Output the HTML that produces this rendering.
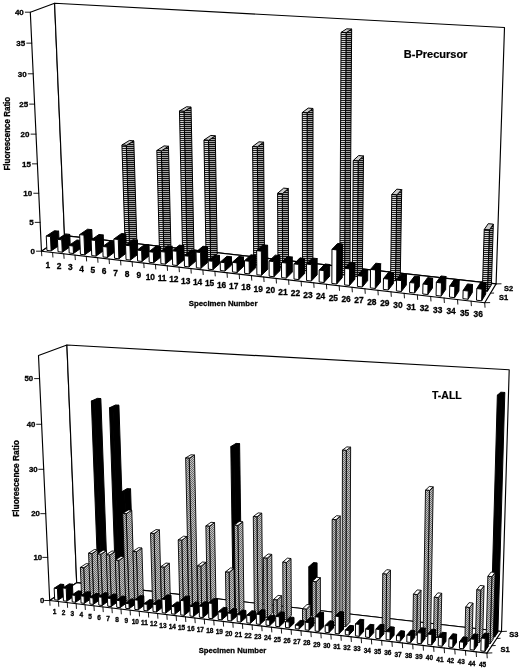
<!DOCTYPE html>
<html><head><meta charset="utf-8"><title>Fluorescence Ratio</title>
<style>html,body{margin:0;padding:0;background:#fff}svg{display:block}
text{font-family:"Liberation Sans",Arial,sans-serif;fill:#000}</style></head>
<body><svg width="520" height="668" viewBox="0 0 520 668">
<rect width="520" height="668" fill="#fff"/>
<defs>
<pattern id="hl" width="2" height="2" patternUnits="userSpaceOnUse"><rect width="2" height="2" fill="#d8d8d8"/><rect width="2" height="1" fill="#222"/></pattern>
<pattern id="hd" width="2" height="2" patternUnits="userSpaceOnUse"><rect width="2" height="2" fill="#b4b4b4"/><rect width="2" height="1.1" fill="#111"/></pattern>
<pattern id="dt" width="2" height="2" patternUnits="userSpaceOnUse"><rect width="2" height="2" fill="#c4c4c4"/><rect width="1" height="1" fill="#6a6a6a"/><rect x="1" y="1" width="1" height="1" fill="#6a6a6a"/></pattern>
</defs>
<polygon points="41.48,251.20 64.51,235.69 54.60,3.22 30.31,12.19" fill="#fff" stroke="#000" stroke-width="1.15" stroke-linejoin="round" />
<polygon points="64.51,235.69 496.09,283.90 504.50,27.49 54.60,3.22" fill="#fff" stroke="#000" stroke-width="1.15" stroke-linejoin="round" />
<polygon points="41.48,251.20 484.72,302.71 496.09,283.90 64.51,235.69" fill="#fff" stroke="#000" stroke-width="1.15" stroke-linejoin="round" />
<polygon points="129.61,250.66 136.93,245.13 133.80,140.85 126.31,145.38" fill="url(#hd)" stroke="#000" stroke-width="1.0" stroke-linejoin="round" />
<polygon points="121.93,145.00 126.31,145.38 133.80,140.85 129.45,140.48" fill="#ccc" stroke="#000" stroke-width="1.0" stroke-linejoin="round" />
<polygon points="125.31,250.17 129.61,250.66 126.31,145.38 121.93,145.00" fill="url(#hl)" stroke="#000" stroke-width="1.0" stroke-linejoin="round" />
<polygon points="163.93,254.56 170.96,248.94 168.48,146.27 161.30,150.89" fill="url(#hd)" stroke="#000" stroke-width="1.0" stroke-linejoin="round" />
<polygon points="156.84,150.50 161.30,150.89 168.48,146.27 164.06,145.88" fill="#ccc" stroke="#000" stroke-width="1.0" stroke-linejoin="round" />
<polygon points="159.55,254.06 163.93,254.56 161.30,150.89 156.84,150.50" fill="url(#hl)" stroke="#000" stroke-width="1.0" stroke-linejoin="round" />
<polygon points="187.14,257.19 193.96,251.51 191.05,107.09 184.02,111.36" fill="url(#hd)" stroke="#000" stroke-width="1.0" stroke-linejoin="round" />
<polygon points="179.48,111.00 184.02,111.36 191.05,107.09 186.55,106.75" fill="#ccc" stroke="#000" stroke-width="1.0" stroke-linejoin="round" />
<polygon points="182.71,256.69 187.14,257.19 184.02,111.36 179.48,111.00" fill="url(#hl)" stroke="#000" stroke-width="1.0" stroke-linejoin="round" />
<polygon points="210.60,259.86 217.21,254.12 215.31,135.81 208.54,140.39" fill="url(#hd)" stroke="#000" stroke-width="1.0" stroke-linejoin="round" />
<polygon points="203.97,140.00 208.54,140.39 215.31,135.81 210.78,135.43" fill="#ccc" stroke="#000" stroke-width="1.0" stroke-linejoin="round" />
<polygon points="206.12,259.35 210.60,259.86 208.54,140.39 203.97,140.00" fill="url(#hl)" stroke="#000" stroke-width="1.0" stroke-linejoin="round" />
<polygon points="258.34,265.28 264.52,259.42 263.60,142.20 257.28,146.90" fill="url(#hd)" stroke="#000" stroke-width="1.0" stroke-linejoin="round" />
<polygon points="252.61,146.50 257.28,146.90 263.60,142.20 258.97,141.81" fill="#ccc" stroke="#000" stroke-width="1.0" stroke-linejoin="round" />
<polygon points="253.76,264.76 258.34,265.28 257.28,146.90 252.61,146.50" fill="url(#hl)" stroke="#000" stroke-width="1.0" stroke-linejoin="round" />
<polygon points="282.62,268.04 288.58,262.11 288.31,188.55 282.27,193.75" fill="url(#hd)" stroke="#000" stroke-width="1.0" stroke-linejoin="round" />
<polygon points="277.58,193.30 282.27,193.75 288.31,188.55 283.66,188.11" fill="#ccc" stroke="#000" stroke-width="1.0" stroke-linejoin="round" />
<polygon points="277.98,267.51 282.62,268.04 282.27,193.75 277.58,193.30" fill="url(#hl)" stroke="#000" stroke-width="1.0" stroke-linejoin="round" />
<polygon points="307.18,270.83 312.91,264.84 313.01,108.46 307.12,112.87" fill="url(#hd)" stroke="#000" stroke-width="1.0" stroke-linejoin="round" />
<polygon points="302.31,112.50 307.12,112.87 313.01,108.46 308.24,108.10" fill="#ccc" stroke="#000" stroke-width="1.0" stroke-linejoin="round" />
<polygon points="302.49,270.29 307.18,270.83 307.12,112.87 302.31,112.50" fill="url(#hl)" stroke="#000" stroke-width="1.0" stroke-linejoin="round" />
<polygon points="344.57,275.07 349.94,268.99 351.65,29.08 346.07,32.68" fill="url(#hd)" stroke="#000" stroke-width="1.0" stroke-linejoin="round" />
<polygon points="341.09,32.40 346.07,32.68 351.65,29.08 346.72,28.80" fill="#ccc" stroke="#000" stroke-width="1.0" stroke-linejoin="round" />
<polygon points="339.80,274.53 344.57,275.07 346.07,32.68 341.09,32.40" fill="url(#hl)" stroke="#000" stroke-width="1.0" stroke-linejoin="round" />
<polygon points="357.18,276.51 362.43,270.39 363.49,155.96 358.15,160.92" fill="url(#hd)" stroke="#000" stroke-width="1.0" stroke-linejoin="round" />
<polygon points="353.25,160.50 358.15,160.92 363.49,155.96 358.64,155.55" fill="#ccc" stroke="#000" stroke-width="1.0" stroke-linejoin="round" />
<polygon points="352.38,275.96 357.18,276.51 358.15,160.92 353.25,160.50" fill="url(#hl)" stroke="#000" stroke-width="1.0" stroke-linejoin="round" />
<polygon points="395.45,280.85 400.33,274.63 401.68,189.61 396.75,194.97" fill="url(#hd)" stroke="#000" stroke-width="1.0" stroke-linejoin="round" />
<polygon points="391.79,194.50 396.75,194.97 401.68,189.61 396.77,189.15" fill="#ccc" stroke="#000" stroke-width="1.0" stroke-linejoin="round" />
<polygon points="390.56,280.30 395.45,280.85 396.75,194.97 391.79,194.50" fill="url(#hl)" stroke="#000" stroke-width="1.0" stroke-linejoin="round" />
<polygon points="487.45,291.30 491.40,284.84 493.34,224.17 489.37,230.01" fill="url(#hd)" stroke="#000" stroke-width="1.0" stroke-linejoin="round" />
<polygon points="484.22,229.50 489.37,230.01 493.34,224.17 488.25,223.67" fill="#ccc" stroke="#000" stroke-width="1.0" stroke-linejoin="round" />
<polygon points="482.36,290.72 487.45,291.30 489.37,230.01 484.22,229.50" fill="url(#hl)" stroke="#000" stroke-width="1.0" stroke-linejoin="round" />
<polygon points="51.13,250.91 59.24,245.39 58.62,231.15 50.48,236.54" fill="#000" stroke="#000" stroke-width="1" stroke-linejoin="round" />
<polygon points="46.25,236.07 50.48,236.54 58.62,231.15 54.43,230.69" fill="#000" stroke="#000" stroke-width="1" stroke-linejoin="round" />
<polygon points="46.91,250.42 51.13,250.91 50.48,236.54 46.25,236.07" fill="#fff" stroke="#000" stroke-width="1" stroke-linejoin="round" />
<polygon points="62.27,252.20 70.28,246.65 69.77,234.38 61.73,239.82" fill="#000" stroke="#000" stroke-width="1" stroke-linejoin="round" />
<polygon points="57.48,239.34 61.73,239.82 69.77,234.38 65.56,233.91" fill="#000" stroke="#000" stroke-width="1" stroke-linejoin="round" />
<polygon points="58.03,251.71 62.27,252.20 61.73,239.82 57.48,239.34" fill="#fff" stroke="#000" stroke-width="1" stroke-linejoin="round" />
<polygon points="73.46,253.50 81.39,247.92 81.09,240.49 73.15,246.00" fill="#000" stroke="#000" stroke-width="1" stroke-linejoin="round" />
<polygon points="68.89,245.51 73.15,246.00 81.09,240.49 76.86,240.01" fill="#000" stroke="#000" stroke-width="1" stroke-linejoin="round" />
<polygon points="69.20,253.01 73.46,253.50 73.15,246.00 68.89,245.51" fill="#fff" stroke="#000" stroke-width="1" stroke-linejoin="round" />
<polygon points="84.73,254.81 92.56,249.19 91.82,229.66 83.95,235.09" fill="#000" stroke="#000" stroke-width="1" stroke-linejoin="round" />
<polygon points="79.65,234.61 83.95,235.09 91.82,229.66 87.55,229.20" fill="#000" stroke="#000" stroke-width="1" stroke-linejoin="round" />
<polygon points="80.44,254.31 84.73,254.81 83.95,235.09 79.65,234.61" fill="#fff" stroke="#000" stroke-width="1" stroke-linejoin="round" />
<polygon points="96.05,256.12 103.78,250.48 103.23,234.94 95.47,240.43" fill="#000" stroke="#000" stroke-width="1" stroke-linejoin="round" />
<polygon points="91.14,239.95 95.47,240.43 103.23,234.94 98.94,234.47" fill="#000" stroke="#000" stroke-width="1" stroke-linejoin="round" />
<polygon points="91.74,255.62 96.05,256.12 95.47,240.43 91.14,239.95" fill="#fff" stroke="#000" stroke-width="1" stroke-linejoin="round" />
<polygon points="107.44,257.44 115.08,251.77 114.72,241.39 107.07,246.96" fill="#000" stroke="#000" stroke-width="1" stroke-linejoin="round" />
<polygon points="102.73,246.47 107.07,246.96 114.72,241.39 110.42,240.91" fill="#000" stroke="#000" stroke-width="1" stroke-linejoin="round" />
<polygon points="103.10,256.94 107.44,257.44 107.07,246.96 102.73,246.47" fill="#fff" stroke="#000" stroke-width="1" stroke-linejoin="round" />
<polygon points="118.89,258.76 126.43,253.06 125.82,233.96 118.25,239.48" fill="#000" stroke="#000" stroke-width="1" stroke-linejoin="round" />
<polygon points="113.88,239.00 118.25,239.48 125.82,233.96 121.48,233.49" fill="#000" stroke="#000" stroke-width="1" stroke-linejoin="round" />
<polygon points="114.53,258.26 118.89,258.76 118.25,239.48 113.88,239.00" fill="#fff" stroke="#000" stroke-width="1" stroke-linejoin="round" />
<polygon points="130.41,260.10 137.85,254.37 137.42,240.16 129.96,245.76" fill="#000" stroke="#000" stroke-width="1" stroke-linejoin="round" />
<polygon points="125.57,245.26 129.96,245.76 137.42,240.16 133.07,239.68" fill="#000" stroke="#000" stroke-width="1" stroke-linejoin="round" />
<polygon points="126.02,259.59 130.41,260.10 129.96,245.76 125.57,245.26" fill="#fff" stroke="#000" stroke-width="1" stroke-linejoin="round" />
<polygon points="141.99,261.44 149.33,255.68 149.03,244.93 141.67,250.59" fill="#000" stroke="#000" stroke-width="1" stroke-linejoin="round" />
<polygon points="137.26,250.09 141.67,250.59 149.03,244.93 144.65,244.45" fill="#000" stroke="#000" stroke-width="1" stroke-linejoin="round" />
<polygon points="137.58,260.93 141.99,261.44 141.67,250.59 137.26,250.09" fill="#fff" stroke="#000" stroke-width="1" stroke-linejoin="round" />
<polygon points="153.64,262.79 160.88,257.00 160.61,246.52 153.35,252.21" fill="#000" stroke="#000" stroke-width="1" stroke-linejoin="round" />
<polygon points="148.91,251.70 153.35,252.21 160.61,246.52 156.20,246.03" fill="#000" stroke="#000" stroke-width="1" stroke-linejoin="round" />
<polygon points="149.21,262.28 153.64,262.79 153.35,252.21 148.91,251.70" fill="#fff" stroke="#000" stroke-width="1" stroke-linejoin="round" />
<polygon points="165.36,264.15 172.49,258.33 172.20,246.35 165.05,252.06" fill="#000" stroke="#000" stroke-width="1" stroke-linejoin="round" />
<polygon points="160.58,251.55 165.05,252.06 172.20,246.35 167.77,245.86" fill="#000" stroke="#000" stroke-width="1" stroke-linejoin="round" />
<polygon points="160.90,263.63 165.36,264.15 165.05,252.06 160.58,251.55" fill="#fff" stroke="#000" stroke-width="1" stroke-linejoin="round" />
<polygon points="177.14,265.51 184.17,259.66 183.86,245.60 176.81,251.32" fill="#000" stroke="#000" stroke-width="1" stroke-linejoin="round" />
<polygon points="172.31,250.81 176.81,251.32 183.86,245.60 179.40,245.11" fill="#000" stroke="#000" stroke-width="1" stroke-linejoin="round" />
<polygon points="172.65,264.99 177.14,265.51 176.81,251.32 172.31,250.81" fill="#fff" stroke="#000" stroke-width="1" stroke-linejoin="round" />
<polygon points="188.99,266.89 195.91,261.00 195.70,250.44 188.76,256.22" fill="#000" stroke="#000" stroke-width="1" stroke-linejoin="round" />
<polygon points="184.24,255.71 188.76,256.22 195.70,250.44 191.22,249.94" fill="#000" stroke="#000" stroke-width="1" stroke-linejoin="round" />
<polygon points="184.48,266.36 188.99,266.89 188.76,256.22 184.24,255.71" fill="#fff" stroke="#000" stroke-width="1" stroke-linejoin="round" />
<polygon points="200.91,268.27 207.72,262.35 207.45,246.74 200.61,252.51" fill="#000" stroke="#000" stroke-width="1" stroke-linejoin="round" />
<polygon points="196.06,252.00 200.61,252.51 207.45,246.74 202.94,246.25" fill="#000" stroke="#000" stroke-width="1" stroke-linejoin="round" />
<polygon points="196.37,267.74 200.91,268.27 200.61,252.51 196.06,252.00" fill="#fff" stroke="#000" stroke-width="1" stroke-linejoin="round" />
<polygon points="212.89,269.66 219.60,263.71 219.47,255.45 212.75,261.32" fill="#000" stroke="#000" stroke-width="1" stroke-linejoin="round" />
<polygon points="208.18,260.80 212.75,261.32 219.47,255.45 214.94,254.94" fill="#000" stroke="#000" stroke-width="1" stroke-linejoin="round" />
<polygon points="208.33,269.13 212.89,269.66 212.75,261.32 208.18,260.80" fill="#fff" stroke="#000" stroke-width="1" stroke-linejoin="round" />
<polygon points="224.95,271.05 231.55,265.08 231.44,256.80 224.83,262.69" fill="#000" stroke="#000" stroke-width="1" stroke-linejoin="round" />
<polygon points="220.23,262.17 224.83,262.69 231.44,256.80 226.88,256.29" fill="#000" stroke="#000" stroke-width="1" stroke-linejoin="round" />
<polygon points="220.36,270.52 224.95,271.05 224.83,262.69 220.23,262.17" fill="#fff" stroke="#000" stroke-width="1" stroke-linejoin="round" />
<polygon points="237.08,272.46 243.56,266.45 243.45,256.96 236.96,262.88" fill="#000" stroke="#000" stroke-width="1" stroke-linejoin="round" />
<polygon points="232.33,262.35 236.96,262.88 243.45,256.96 238.87,256.45" fill="#000" stroke="#000" stroke-width="1" stroke-linejoin="round" />
<polygon points="232.46,271.92 237.08,272.46 236.96,262.88 232.33,262.35" fill="#fff" stroke="#000" stroke-width="1" stroke-linejoin="round" />
<polygon points="249.27,273.87 255.65,267.83 255.53,255.34 249.14,261.26" fill="#000" stroke="#000" stroke-width="1" stroke-linejoin="round" />
<polygon points="244.49,260.73 249.14,261.26 255.53,255.34 250.92,254.82" fill="#000" stroke="#000" stroke-width="1" stroke-linejoin="round" />
<polygon points="244.63,273.33 249.27,273.87 249.14,261.26 244.49,260.73" fill="#fff" stroke="#000" stroke-width="1" stroke-linejoin="round" />
<polygon points="261.54,275.29 267.80,269.22 267.63,245.31 261.34,251.15" fill="#000" stroke="#000" stroke-width="1" stroke-linejoin="round" />
<polygon points="256.65,250.63 261.34,251.15 267.63,245.31 262.98,244.81" fill="#000" stroke="#000" stroke-width="1" stroke-linejoin="round" />
<polygon points="256.87,274.75 261.54,275.29 261.34,251.15 256.65,250.63" fill="#fff" stroke="#000" stroke-width="1" stroke-linejoin="round" />
<polygon points="273.88,276.72 280.03,270.61 279.95,255.66 273.79,261.62" fill="#000" stroke="#000" stroke-width="1" stroke-linejoin="round" />
<polygon points="269.08,261.09 273.79,261.62 279.95,255.66 275.28,255.14" fill="#000" stroke="#000" stroke-width="1" stroke-linejoin="round" />
<polygon points="269.18,276.18 273.88,276.72 273.79,261.62 269.08,261.09" fill="#fff" stroke="#000" stroke-width="1" stroke-linejoin="round" />
<polygon points="286.30,278.16 292.32,272.02 292.28,257.02 286.23,263.02" fill="#000" stroke="#000" stroke-width="1" stroke-linejoin="round" />
<polygon points="281.50,262.48 286.23,263.02 292.28,257.02 287.59,256.50" fill="#000" stroke="#000" stroke-width="1" stroke-linejoin="round" />
<polygon points="281.57,277.61 286.30,278.16 286.23,263.02 281.50,262.48" fill="#fff" stroke="#000" stroke-width="1" stroke-linejoin="round" />
<polygon points="298.78,279.61 304.69,273.43 304.68,258.40 298.75,264.42" fill="#000" stroke="#000" stroke-width="1" stroke-linejoin="round" />
<polygon points="293.99,263.89 298.75,264.42 304.68,258.40 299.96,257.87" fill="#000" stroke="#000" stroke-width="1" stroke-linejoin="round" />
<polygon points="294.03,279.06 298.78,279.61 298.75,264.42 293.99,263.89" fill="#fff" stroke="#000" stroke-width="1" stroke-linejoin="round" />
<polygon points="311.34,281.06 317.13,274.85 317.15,258.57 311.35,264.61" fill="#000" stroke="#000" stroke-width="1" stroke-linejoin="round" />
<polygon points="306.55,264.08 311.35,264.61 317.15,258.57 312.40,258.04" fill="#000" stroke="#000" stroke-width="1" stroke-linejoin="round" />
<polygon points="306.56,280.51 311.34,281.06 311.35,264.61 306.55,264.08" fill="#fff" stroke="#000" stroke-width="1" stroke-linejoin="round" />
<polygon points="323.98,282.53 329.64,276.28 329.69,264.50 324.01,270.63" fill="#000" stroke="#000" stroke-width="1" stroke-linejoin="round" />
<polygon points="319.19,270.08 324.01,270.63 329.69,264.50 324.91,263.97" fill="#000" stroke="#000" stroke-width="1" stroke-linejoin="round" />
<polygon points="319.17,281.97 323.98,282.53 324.01,270.63 319.19,270.08" fill="#fff" stroke="#000" stroke-width="1" stroke-linejoin="round" />
<polygon points="336.69,284.00 342.23,277.72 342.42,243.96 336.85,249.90" fill="#000" stroke="#000" stroke-width="1" stroke-linejoin="round" />
<polygon points="331.98,249.37 336.85,249.90 342.42,243.96 337.60,243.45" fill="#000" stroke="#000" stroke-width="1" stroke-linejoin="round" />
<polygon points="331.85,283.44 336.69,284.00 336.85,249.90 331.98,249.37" fill="#fff" stroke="#000" stroke-width="1" stroke-linejoin="round" />
<polygon points="349.47,285.48 354.89,279.17 355.02,262.75 349.59,268.90" fill="#000" stroke="#000" stroke-width="1" stroke-linejoin="round" />
<polygon points="344.71,268.35 349.59,268.90 355.02,262.75 350.19,262.22" fill="#000" stroke="#000" stroke-width="1" stroke-linejoin="round" />
<polygon points="344.60,284.92 349.47,285.48 349.59,268.90 344.71,268.35" fill="#fff" stroke="#000" stroke-width="1" stroke-linejoin="round" />
<polygon points="362.33,286.97 367.63,280.62 367.73,269.96 362.43,276.21" fill="#000" stroke="#000" stroke-width="1" stroke-linejoin="round" />
<polygon points="357.53,275.65 362.43,276.21 367.73,269.96 362.88,269.42" fill="#000" stroke="#000" stroke-width="1" stroke-linejoin="round" />
<polygon points="357.44,286.41 362.33,286.97 362.43,276.21 357.53,275.65" fill="#fff" stroke="#000" stroke-width="1" stroke-linejoin="round" />
<polygon points="375.27,288.47 380.44,282.09 380.67,263.74 375.49,269.94" fill="#000" stroke="#000" stroke-width="1" stroke-linejoin="round" />
<polygon points="370.54,269.39 375.49,269.94 380.67,263.74 375.77,263.20" fill="#000" stroke="#000" stroke-width="1" stroke-linejoin="round" />
<polygon points="370.35,287.90 375.27,288.47 375.49,269.94 370.54,269.39" fill="#fff" stroke="#000" stroke-width="1" stroke-linejoin="round" />
<polygon points="388.29,289.98 393.32,283.56 393.48,272.84 388.44,279.15" fill="#000" stroke="#000" stroke-width="1" stroke-linejoin="round" />
<polygon points="383.47,278.59 388.44,279.15 393.48,272.84 388.57,272.29" fill="#000" stroke="#000" stroke-width="1" stroke-linejoin="round" />
<polygon points="383.33,289.41 388.29,289.98 388.44,279.15 383.47,278.59" fill="#fff" stroke="#000" stroke-width="1" stroke-linejoin="round" />
<polygon points="401.38,291.50 406.29,285.04 406.47,274.29 401.56,280.64" fill="#000" stroke="#000" stroke-width="1" stroke-linejoin="round" />
<polygon points="396.56,280.07 401.56,280.64 406.47,274.29 401.53,273.74" fill="#000" stroke="#000" stroke-width="1" stroke-linejoin="round" />
<polygon points="396.40,290.92 401.38,291.50 401.56,280.64 396.56,280.07" fill="#fff" stroke="#000" stroke-width="1" stroke-linejoin="round" />
<polygon points="414.56,293.02 419.33,286.53 419.52,276.68 414.74,283.07" fill="#000" stroke="#000" stroke-width="1" stroke-linejoin="round" />
<polygon points="409.72,282.50 414.74,283.07 419.52,276.68 414.55,276.12" fill="#000" stroke="#000" stroke-width="1" stroke-linejoin="round" />
<polygon points="409.54,292.44 414.56,293.02 414.74,283.07 409.72,282.50" fill="#fff" stroke="#000" stroke-width="1" stroke-linejoin="round" />
<polygon points="427.81,294.56 432.45,288.03 432.66,278.15 428.02,284.58" fill="#000" stroke="#000" stroke-width="1" stroke-linejoin="round" />
<polygon points="422.97,284.01 428.02,284.58 432.66,278.15 427.66,277.59" fill="#000" stroke="#000" stroke-width="1" stroke-linejoin="round" />
<polygon points="422.77,293.98 427.81,294.56 428.02,284.58 422.97,284.01" fill="#fff" stroke="#000" stroke-width="1" stroke-linejoin="round" />
<polygon points="441.15,296.11 445.65,289.54 445.96,276.53 441.45,282.96" fill="#000" stroke="#000" stroke-width="1" stroke-linejoin="round" />
<polygon points="436.36,282.39 441.45,282.96 445.96,276.53 440.92,275.97" fill="#000" stroke="#000" stroke-width="1" stroke-linejoin="round" />
<polygon points="436.07,295.52 441.15,296.11 441.45,282.96 436.36,282.39" fill="#fff" stroke="#000" stroke-width="1" stroke-linejoin="round" />
<polygon points="454.56,297.66 458.93,291.06 459.21,280.19 454.85,286.68" fill="#000" stroke="#000" stroke-width="1" stroke-linejoin="round" />
<polygon points="449.73,286.10 454.85,286.68 459.21,280.19 454.15,279.62" fill="#000" stroke="#000" stroke-width="1" stroke-linejoin="round" />
<polygon points="449.46,297.07 454.56,297.66 454.85,286.68 449.73,286.10" fill="#fff" stroke="#000" stroke-width="1" stroke-linejoin="round" />
<polygon points="468.06,299.22 472.29,292.58 472.52,284.49 468.29,291.05" fill="#000" stroke="#000" stroke-width="1" stroke-linejoin="round" />
<polygon points="463.14,290.46 468.29,291.05 472.52,284.49 467.43,283.92" fill="#000" stroke="#000" stroke-width="1" stroke-linejoin="round" />
<polygon points="462.92,298.63 468.06,299.22 468.29,291.05 463.14,290.46" fill="#fff" stroke="#000" stroke-width="1" stroke-linejoin="round" />
<polygon points="481.65,300.80 485.73,294.12 486.09,282.57 482.00,289.13" fill="#000" stroke="#000" stroke-width="1" stroke-linejoin="round" />
<polygon points="476.82,288.54 482.00,289.13 486.09,282.57 480.96,281.99" fill="#000" stroke="#000" stroke-width="1" stroke-linejoin="round" />
<polygon points="476.47,300.20 481.65,300.80 482.00,289.13 476.82,288.54" fill="#fff" stroke="#000" stroke-width="1" stroke-linejoin="round" />
<line x1="36.48" y1="251.20" x2="41.48" y2="251.20" stroke="#000" stroke-width="0.9" stroke-linecap="round"/>
<line x1="35.14" y1="222.37" x2="40.14" y2="222.37" stroke="#000" stroke-width="0.9" stroke-linecap="round"/>
<line x1="33.77" y1="193.26" x2="38.77" y2="193.26" stroke="#000" stroke-width="0.9" stroke-linecap="round"/>
<line x1="32.40" y1="163.85" x2="37.40" y2="163.85" stroke="#000" stroke-width="0.9" stroke-linecap="round"/>
<line x1="31.01" y1="134.14" x2="36.01" y2="134.14" stroke="#000" stroke-width="0.9" stroke-linecap="round"/>
<line x1="29.61" y1="104.12" x2="34.61" y2="104.12" stroke="#000" stroke-width="0.9" stroke-linecap="round"/>
<line x1="28.19" y1="73.79" x2="33.19" y2="73.79" stroke="#000" stroke-width="0.9" stroke-linecap="round"/>
<line x1="26.75" y1="43.15" x2="31.75" y2="43.15" stroke="#000" stroke-width="0.9" stroke-linecap="round"/>
<line x1="25.31" y1="12.19" x2="30.31" y2="12.19" stroke="#000" stroke-width="0.9" stroke-linecap="round"/>
<line x1="41.48" y1="251.20" x2="41.78" y2="255.80" stroke="#000" stroke-width="0.9" stroke-linecap="round"/>
<line x1="52.60" y1="252.49" x2="52.90" y2="257.09" stroke="#000" stroke-width="0.9" stroke-linecap="round"/>
<line x1="63.77" y1="253.79" x2="64.07" y2="258.39" stroke="#000" stroke-width="0.9" stroke-linecap="round"/>
<line x1="75.01" y1="255.09" x2="75.31" y2="259.69" stroke="#000" stroke-width="0.9" stroke-linecap="round"/>
<line x1="86.31" y1="256.40" x2="86.61" y2="261.00" stroke="#000" stroke-width="0.9" stroke-linecap="round"/>
<line x1="97.67" y1="257.73" x2="97.97" y2="262.33" stroke="#000" stroke-width="0.9" stroke-linecap="round"/>
<line x1="109.10" y1="259.05" x2="109.40" y2="263.65" stroke="#000" stroke-width="0.9" stroke-linecap="round"/>
<line x1="120.59" y1="260.39" x2="120.89" y2="264.99" stroke="#000" stroke-width="0.9" stroke-linecap="round"/>
<line x1="132.15" y1="261.73" x2="132.45" y2="266.33" stroke="#000" stroke-width="0.9" stroke-linecap="round"/>
<line x1="143.78" y1="263.08" x2="144.08" y2="267.68" stroke="#000" stroke-width="0.9" stroke-linecap="round"/>
<line x1="155.47" y1="264.44" x2="155.77" y2="269.04" stroke="#000" stroke-width="0.9" stroke-linecap="round"/>
<line x1="167.22" y1="265.81" x2="167.52" y2="270.41" stroke="#000" stroke-width="0.9" stroke-linecap="round"/>
<line x1="179.05" y1="267.18" x2="179.35" y2="271.78" stroke="#000" stroke-width="0.9" stroke-linecap="round"/>
<line x1="190.94" y1="268.57" x2="191.24" y2="273.17" stroke="#000" stroke-width="0.9" stroke-linecap="round"/>
<line x1="202.90" y1="269.96" x2="203.20" y2="274.56" stroke="#000" stroke-width="0.9" stroke-linecap="round"/>
<line x1="214.93" y1="271.35" x2="215.23" y2="275.95" stroke="#000" stroke-width="0.9" stroke-linecap="round"/>
<line x1="227.03" y1="272.76" x2="227.33" y2="277.36" stroke="#000" stroke-width="0.9" stroke-linecap="round"/>
<line x1="239.21" y1="274.18" x2="239.51" y2="278.78" stroke="#000" stroke-width="0.9" stroke-linecap="round"/>
<line x1="251.45" y1="275.60" x2="251.75" y2="280.20" stroke="#000" stroke-width="0.9" stroke-linecap="round"/>
<line x1="263.76" y1="277.03" x2="264.06" y2="281.63" stroke="#000" stroke-width="0.9" stroke-linecap="round"/>
<line x1="276.15" y1="278.47" x2="276.45" y2="283.07" stroke="#000" stroke-width="0.9" stroke-linecap="round"/>
<line x1="288.61" y1="279.92" x2="288.91" y2="284.52" stroke="#000" stroke-width="0.9" stroke-linecap="round"/>
<line x1="301.14" y1="281.37" x2="301.44" y2="285.97" stroke="#000" stroke-width="0.9" stroke-linecap="round"/>
<line x1="313.75" y1="282.84" x2="314.05" y2="287.44" stroke="#000" stroke-width="0.9" stroke-linecap="round"/>
<line x1="326.43" y1="284.31" x2="326.73" y2="288.91" stroke="#000" stroke-width="0.9" stroke-linecap="round"/>
<line x1="339.19" y1="285.80" x2="339.49" y2="290.40" stroke="#000" stroke-width="0.9" stroke-linecap="round"/>
<line x1="352.02" y1="287.29" x2="352.32" y2="291.89" stroke="#000" stroke-width="0.9" stroke-linecap="round"/>
<line x1="364.93" y1="288.79" x2="365.23" y2="293.39" stroke="#000" stroke-width="0.9" stroke-linecap="round"/>
<line x1="377.92" y1="290.30" x2="378.22" y2="294.90" stroke="#000" stroke-width="0.9" stroke-linecap="round"/>
<line x1="390.99" y1="291.82" x2="391.29" y2="296.42" stroke="#000" stroke-width="0.9" stroke-linecap="round"/>
<line x1="404.14" y1="293.34" x2="404.44" y2="297.94" stroke="#000" stroke-width="0.9" stroke-linecap="round"/>
<line x1="417.36" y1="294.88" x2="417.66" y2="299.48" stroke="#000" stroke-width="0.9" stroke-linecap="round"/>
<line x1="430.67" y1="296.43" x2="430.97" y2="301.03" stroke="#000" stroke-width="0.9" stroke-linecap="round"/>
<line x1="444.06" y1="297.98" x2="444.36" y2="302.58" stroke="#000" stroke-width="0.9" stroke-linecap="round"/>
<line x1="457.53" y1="299.55" x2="457.83" y2="304.15" stroke="#000" stroke-width="0.9" stroke-linecap="round"/>
<line x1="471.08" y1="301.13" x2="471.38" y2="305.73" stroke="#000" stroke-width="0.9" stroke-linecap="round"/>
<line x1="484.72" y1="302.71" x2="485.02" y2="307.31" stroke="#000" stroke-width="0.9" stroke-linecap="round"/>
<line x1="484.72" y1="302.71" x2="489.72" y2="302.61" stroke="#000" stroke-width="0.9" stroke-linecap="round"/>
<line x1="490.50" y1="293.15" x2="493.70" y2="293.05" stroke="#000" stroke-width="0.9" stroke-linecap="round"/>
<line x1="496.09" y1="283.90" x2="501.09" y2="283.80" stroke="#000" stroke-width="0.9" stroke-linecap="round"/>
<polygon points="49.70,600.50 76.68,582.65 66.91,344.99 38.49,355.51" fill="#fff" stroke="#000" stroke-width="1.15" stroke-linejoin="round" />
<polygon points="76.68,582.65 501.49,631.51 509.20,369.70 66.91,344.99" fill="#fff" stroke="#000" stroke-width="1.15" stroke-linejoin="round" />
<polygon points="49.70,600.50 486.91,653.09 501.49,631.51 76.68,582.65" fill="#fff" stroke="#000" stroke-width="1.15" stroke-linejoin="round" />
<polygon points="101.76,591.31 107.64,587.23 100.84,398.56 94.72,401.33" fill="#000" stroke="#000" stroke-width="1" stroke-linejoin="round" />
<polygon points="91.35,401.10 94.72,401.33 100.84,398.56 97.49,398.33" fill="#000" stroke="#000" stroke-width="1" stroke-linejoin="round" />
<polygon points="98.48,590.93 101.76,591.31 94.72,401.33 91.35,401.10" fill="#000" stroke="#000" stroke-width="1" stroke-linejoin="round" />
<polygon points="119.25,593.35 125.03,589.24 118.92,405.21 112.92,408.04" fill="#000" stroke="#000" stroke-width="1" stroke-linejoin="round" />
<polygon points="109.52,407.80 112.92,408.04 118.92,405.21 115.55,404.97" fill="#000" stroke="#000" stroke-width="1" stroke-linejoin="round" />
<polygon points="115.95,592.96 119.25,593.35 112.92,408.04 109.52,407.80" fill="#000" stroke="#000" stroke-width="1" stroke-linejoin="round" />
<polygon points="128.05,594.37 133.78,590.25 130.56,488.88 124.71,492.31" fill="#000" stroke="#000" stroke-width="1" stroke-linejoin="round" />
<polygon points="121.34,492.00 124.71,492.31 130.56,488.88 127.21,488.57" fill="#000" stroke="#000" stroke-width="1" stroke-linejoin="round" />
<polygon points="124.73,593.99 128.05,594.37 124.71,492.31 121.34,492.00" fill="#000" stroke="#000" stroke-width="1" stroke-linejoin="round" />
<polygon points="236.75,607.03 241.80,602.70 239.60,443.68 234.39,446.88" fill="#000" stroke="#000" stroke-width="1" stroke-linejoin="round" />
<polygon points="230.81,446.60 234.39,446.88 239.60,443.68 236.04,443.40" fill="#000" stroke="#000" stroke-width="1" stroke-linejoin="round" />
<polygon points="233.25,606.62 236.75,607.03 234.39,446.88 230.81,446.60" fill="#000" stroke="#000" stroke-width="1" stroke-linejoin="round" />
<polygon points="312.56,615.86 317.12,611.38 317.06,562.95 312.46,567.08" fill="#000" stroke="#000" stroke-width="1" stroke-linejoin="round" />
<polygon points="308.80,566.70 312.46,567.08 317.06,562.95 313.43,562.57" fill="#000" stroke="#000" stroke-width="1" stroke-linejoin="round" />
<polygon points="308.93,615.44 312.56,615.86 312.46,567.08 308.80,566.70" fill="#000" stroke="#000" stroke-width="1" stroke-linejoin="round" />
<polygon points="494.62,637.06 497.91,632.22 504.83,392.44 501.46,395.45" fill="#000" stroke="#000" stroke-width="1" stroke-linejoin="round" />
<polygon points="497.35,395.20 501.46,395.45 504.83,392.44 500.75,392.19" fill="#000" stroke="#000" stroke-width="1" stroke-linejoin="round" />
<polygon points="490.68,636.60 494.62,637.06 501.46,395.45 497.35,395.20" fill="#000" stroke="#000" stroke-width="1" stroke-linejoin="round" />
<polygon points="84.79,595.96 90.59,591.99 89.50,563.98 83.67,567.77" fill="url(#dt)" stroke="#000" stroke-width="0.9" stroke-linejoin="round" />
<polygon points="80.37,567.40 83.67,567.77 89.50,563.98 86.22,563.62" fill="#fff" stroke="#000" stroke-width="0.9" stroke-linejoin="round" />
<polygon points="81.51,595.57 84.79,595.96 83.67,567.77 80.37,567.40" fill="url(#dt)" stroke="#000" stroke-width="0.9" stroke-linejoin="round" />
<polygon points="93.55,596.99 99.30,593.01 97.68,549.86 91.89,553.56" fill="url(#dt)" stroke="#000" stroke-width="0.9" stroke-linejoin="round" />
<polygon points="88.56,553.20 91.89,553.56 97.68,549.86 94.38,549.50" fill="#fff" stroke="#000" stroke-width="0.9" stroke-linejoin="round" />
<polygon points="90.25,596.61 93.55,596.99 91.89,553.56 88.56,553.20" fill="url(#dt)" stroke="#000" stroke-width="0.9" stroke-linejoin="round" />
<polygon points="102.35,598.03 108.05,594.04 106.48,550.54 100.73,554.26" fill="url(#dt)" stroke="#000" stroke-width="0.9" stroke-linejoin="round" />
<polygon points="97.40,553.90 100.73,554.26 106.48,550.54 103.16,550.19" fill="#fff" stroke="#000" stroke-width="0.9" stroke-linejoin="round" />
<polygon points="99.04,597.64 102.35,598.03 100.73,554.26 97.40,553.90" fill="url(#dt)" stroke="#000" stroke-width="0.9" stroke-linejoin="round" />
<polygon points="111.19,599.08 116.83,595.06 115.32,551.33 109.63,555.06" fill="url(#dt)" stroke="#000" stroke-width="0.9" stroke-linejoin="round" />
<polygon points="106.27,554.70 109.63,555.06 115.32,551.33 111.99,550.98" fill="#fff" stroke="#000" stroke-width="0.9" stroke-linejoin="round" />
<polygon points="107.86,598.68 111.19,599.08 109.63,555.06 106.27,554.70" fill="url(#dt)" stroke="#000" stroke-width="0.9" stroke-linejoin="round" />
<polygon points="120.06,600.13 125.66,596.10 124.35,556.69 118.71,560.46" fill="url(#dt)" stroke="#000" stroke-width="0.9" stroke-linejoin="round" />
<polygon points="115.35,560.10 118.71,560.46 124.35,556.69 121.01,556.33" fill="#fff" stroke="#000" stroke-width="0.9" stroke-linejoin="round" />
<polygon points="116.72,599.73 120.06,600.13 118.71,560.46 115.35,560.10" fill="url(#dt)" stroke="#000" stroke-width="0.9" stroke-linejoin="round" />
<polygon points="128.98,601.18 134.52,597.13 131.77,510.26 126.13,513.73" fill="url(#dt)" stroke="#000" stroke-width="0.9" stroke-linejoin="round" />
<polygon points="122.73,513.40 126.13,513.73 131.77,510.26 128.39,509.93" fill="#fff" stroke="#000" stroke-width="0.9" stroke-linejoin="round" />
<polygon points="125.62,600.78 128.98,601.18 126.13,513.73 122.73,513.40" fill="url(#dt)" stroke="#000" stroke-width="0.9" stroke-linejoin="round" />
<polygon points="137.93,602.24 143.42,598.17 141.91,548.03 136.36,551.76" fill="url(#dt)" stroke="#000" stroke-width="0.9" stroke-linejoin="round" />
<polygon points="132.96,551.40 136.36,551.76 141.91,548.03 138.53,547.67" fill="#fff" stroke="#000" stroke-width="0.9" stroke-linejoin="round" />
<polygon points="134.56,601.84 137.93,602.24 136.36,551.76 132.96,551.40" fill="url(#dt)" stroke="#000" stroke-width="0.9" stroke-linejoin="round" />
<polygon points="155.96,604.37 161.35,600.27 159.43,529.92 153.97,533.55" fill="url(#dt)" stroke="#000" stroke-width="0.9" stroke-linejoin="round" />
<polygon points="150.53,533.20 153.97,533.55 159.43,529.92 156.01,529.58" fill="#fff" stroke="#000" stroke-width="0.9" stroke-linejoin="round" />
<polygon points="152.56,603.96 155.96,604.37 153.97,533.55 150.53,533.20" fill="url(#dt)" stroke="#000" stroke-width="0.9" stroke-linejoin="round" />
<polygon points="165.03,605.44 170.36,601.32 169.39,563.41 164.02,567.27" fill="url(#dt)" stroke="#000" stroke-width="0.9" stroke-linejoin="round" />
<polygon points="160.58,566.90 164.02,567.27 169.39,563.41 165.97,563.04" fill="#fff" stroke="#000" stroke-width="0.9" stroke-linejoin="round" />
<polygon points="161.61,605.03 165.03,605.44 164.02,567.27 160.58,566.90" fill="url(#dt)" stroke="#000" stroke-width="0.9" stroke-linejoin="round" />
<polygon points="183.30,607.59 188.52,603.45 187.01,536.55 181.71,540.25" fill="url(#dt)" stroke="#000" stroke-width="0.9" stroke-linejoin="round" />
<polygon points="178.23,539.90 181.71,540.25 187.01,536.55 183.54,536.21" fill="#fff" stroke="#000" stroke-width="0.9" stroke-linejoin="round" />
<polygon points="179.85,607.19 183.30,607.59 181.71,540.25 178.23,539.90" fill="url(#dt)" stroke="#000" stroke-width="0.9" stroke-linejoin="round" />
<polygon points="192.50,608.68 197.66,604.52 194.50,455.04 189.18,458.19" fill="url(#dt)" stroke="#000" stroke-width="0.9" stroke-linejoin="round" />
<polygon points="185.63,457.90 189.18,458.19 194.50,455.04 190.97,454.76" fill="#fff" stroke="#000" stroke-width="0.9" stroke-linejoin="round" />
<polygon points="189.03,608.27 192.50,608.68 189.18,458.19 185.63,457.90" fill="url(#dt)" stroke="#000" stroke-width="0.9" stroke-linejoin="round" />
<polygon points="201.73,609.77 206.85,605.59 206.00,562.38 200.84,566.28" fill="url(#dt)" stroke="#000" stroke-width="0.9" stroke-linejoin="round" />
<polygon points="197.34,565.90 200.84,566.28 206.00,562.38 202.51,562.01" fill="#fff" stroke="#000" stroke-width="0.9" stroke-linejoin="round" />
<polygon points="198.25,609.36 201.73,609.77 200.84,566.28 197.34,565.90" fill="url(#dt)" stroke="#000" stroke-width="0.9" stroke-linejoin="round" />
<polygon points="211.01,610.87 216.07,606.67 214.54,522.61 209.40,526.25" fill="url(#dt)" stroke="#000" stroke-width="0.9" stroke-linejoin="round" />
<polygon points="205.86,525.90 209.40,526.25 214.54,522.61 211.02,522.27" fill="#fff" stroke="#000" stroke-width="0.9" stroke-linejoin="round" />
<polygon points="207.52,610.45 211.01,610.87 209.40,526.25 205.86,525.90" fill="url(#dt)" stroke="#000" stroke-width="0.9" stroke-linejoin="round" />
<polygon points="229.69,613.07 234.63,608.84 234.02,568.32 229.04,572.28" fill="url(#dt)" stroke="#000" stroke-width="0.9" stroke-linejoin="round" />
<polygon points="225.49,571.90 229.04,572.28 234.02,568.32 230.50,567.94" fill="#fff" stroke="#000" stroke-width="0.9" stroke-linejoin="round" />
<polygon points="226.16,612.66 229.69,613.07 229.04,572.28 225.49,571.90" fill="url(#dt)" stroke="#000" stroke-width="0.9" stroke-linejoin="round" />
<polygon points="239.10,614.18 243.98,609.93 242.79,521.80 237.82,525.45" fill="url(#dt)" stroke="#000" stroke-width="0.9" stroke-linejoin="round" />
<polygon points="234.23,525.10 237.82,525.45 242.79,521.80 239.22,521.45" fill="#fff" stroke="#000" stroke-width="0.9" stroke-linejoin="round" />
<polygon points="235.55,613.77 239.10,614.18 237.82,525.45 234.23,525.10" fill="url(#dt)" stroke="#000" stroke-width="0.9" stroke-linejoin="round" />
<polygon points="258.03,616.42 262.80,612.13 261.77,513.23 256.92,516.84" fill="url(#dt)" stroke="#000" stroke-width="0.9" stroke-linejoin="round" />
<polygon points="253.29,516.50 256.92,516.84 261.77,513.23 258.16,512.89" fill="#fff" stroke="#000" stroke-width="0.9" stroke-linejoin="round" />
<polygon points="254.46,616.00 258.03,616.42 256.92,516.84 253.29,516.50" fill="url(#dt)" stroke="#000" stroke-width="0.9" stroke-linejoin="round" />
<polygon points="267.56,617.55 272.27,613.24 271.75,554.37 267.00,558.28" fill="url(#dt)" stroke="#000" stroke-width="0.9" stroke-linejoin="round" />
<polygon points="263.37,557.90 267.00,558.28 271.75,554.37 268.15,554.00" fill="#fff" stroke="#000" stroke-width="0.9" stroke-linejoin="round" />
<polygon points="263.97,617.12 267.56,617.55 267.00,558.28 263.37,557.90" fill="url(#dt)" stroke="#000" stroke-width="0.9" stroke-linejoin="round" />
<polygon points="277.14,618.68 281.79,614.35 281.65,595.81 276.99,600.01" fill="url(#dt)" stroke="#000" stroke-width="0.9" stroke-linejoin="round" />
<polygon points="273.37,599.60 276.99,600.01 281.65,595.81 278.06,595.41" fill="#fff" stroke="#000" stroke-width="0.9" stroke-linejoin="round" />
<polygon points="273.53,618.25 277.14,618.68 276.99,600.01 273.37,599.60" fill="url(#dt)" stroke="#000" stroke-width="0.9" stroke-linejoin="round" />
<polygon points="286.76,619.81 291.35,615.47 291.03,558.53 286.39,562.48" fill="url(#dt)" stroke="#000" stroke-width="0.9" stroke-linejoin="round" />
<polygon points="282.74,562.10 286.39,562.48 291.03,558.53 287.39,558.15" fill="#fff" stroke="#000" stroke-width="0.9" stroke-linejoin="round" />
<polygon points="283.14,619.39 286.76,619.81 286.39,562.48 282.74,562.10" fill="url(#dt)" stroke="#000" stroke-width="0.9" stroke-linejoin="round" />
<polygon points="306.19,622.11 310.65,617.73 310.62,604.93 306.15,609.22" fill="url(#dt)" stroke="#000" stroke-width="0.9" stroke-linejoin="round" />
<polygon points="302.48,608.80 306.15,609.22 310.62,604.93 306.98,604.52" fill="#fff" stroke="#000" stroke-width="0.9" stroke-linejoin="round" />
<polygon points="302.53,621.68 306.19,622.11 306.15,609.22 302.48,608.80" fill="url(#dt)" stroke="#000" stroke-width="0.9" stroke-linejoin="round" />
<polygon points="316.00,623.27 320.40,618.87 320.37,577.69 315.94,581.80" fill="url(#dt)" stroke="#000" stroke-width="0.9" stroke-linejoin="round" />
<polygon points="312.24,581.40 315.94,581.80 320.37,577.69 316.69,577.29" fill="#fff" stroke="#000" stroke-width="0.9" stroke-linejoin="round" />
<polygon points="312.33,622.83 316.00,623.27 315.94,581.80 312.24,581.40" fill="url(#dt)" stroke="#000" stroke-width="0.9" stroke-linejoin="round" />
<polygon points="335.76,625.60 340.03,621.17 340.29,516.05 335.95,519.75" fill="url(#dt)" stroke="#000" stroke-width="0.9" stroke-linejoin="round" />
<polygon points="332.17,519.40 335.95,519.75 340.29,516.05 336.54,515.70" fill="#fff" stroke="#000" stroke-width="0.9" stroke-linejoin="round" />
<polygon points="332.05,625.16 335.76,625.60 335.95,519.75 332.17,519.40" fill="url(#dt)" stroke="#000" stroke-width="0.9" stroke-linejoin="round" />
<polygon points="345.71,626.78 349.91,622.32 350.64,447.18 346.31,450.39" fill="url(#dt)" stroke="#000" stroke-width="0.9" stroke-linejoin="round" />
<polygon points="342.48,450.10 346.31,450.39 350.64,447.18 346.83,446.89" fill="#fff" stroke="#000" stroke-width="0.9" stroke-linejoin="round" />
<polygon points="341.98,626.34 345.71,626.78 346.31,450.39 342.48,450.10" fill="url(#dt)" stroke="#000" stroke-width="0.9" stroke-linejoin="round" />
<polygon points="385.97,631.53 389.91,627.00 390.52,570.07 386.55,574.20" fill="url(#dt)" stroke="#000" stroke-width="0.9" stroke-linejoin="round" />
<polygon points="382.72,573.80 386.55,574.20 390.52,570.07 386.71,569.67" fill="#fff" stroke="#000" stroke-width="0.9" stroke-linejoin="round" />
<polygon points="382.17,631.08 385.97,631.53 386.55,574.20 382.72,573.80" fill="url(#dt)" stroke="#000" stroke-width="0.9" stroke-linejoin="round" />
<polygon points="416.66,635.16 420.40,630.57 421.04,590.31 417.28,594.62" fill="url(#dt)" stroke="#000" stroke-width="0.9" stroke-linejoin="round" />
<polygon points="413.41,594.20 417.28,594.62 421.04,590.31 417.19,589.90" fill="#fff" stroke="#000" stroke-width="0.9" stroke-linejoin="round" />
<polygon points="412.81,634.70 416.66,635.16 417.28,594.62 413.41,594.20" fill="url(#dt)" stroke="#000" stroke-width="0.9" stroke-linejoin="round" />
<polygon points="426.99,636.38 430.66,631.77 433.21,486.86 429.48,490.44" fill="url(#dt)" stroke="#000" stroke-width="0.9" stroke-linejoin="round" />
<polygon points="425.51,490.10 429.48,490.44 433.21,486.86 429.27,486.53" fill="#fff" stroke="#000" stroke-width="0.9" stroke-linejoin="round" />
<polygon points="423.12,635.92 426.99,636.38 429.48,490.44 425.51,490.10" fill="url(#dt)" stroke="#000" stroke-width="0.9" stroke-linejoin="round" />
<polygon points="437.37,637.60 440.96,632.97 441.73,593.27 438.12,597.63" fill="url(#dt)" stroke="#000" stroke-width="0.9" stroke-linejoin="round" />
<polygon points="434.21,597.20 438.12,597.63 441.73,593.27 437.84,592.85" fill="#fff" stroke="#000" stroke-width="0.9" stroke-linejoin="round" />
<polygon points="433.48,637.14 437.37,637.60 438.12,597.63 434.21,597.20" fill="url(#dt)" stroke="#000" stroke-width="0.9" stroke-linejoin="round" />
<polygon points="468.81,641.31 472.18,636.62 473.00,603.08 469.62,607.54" fill="url(#dt)" stroke="#000" stroke-width="0.9" stroke-linejoin="round" />
<polygon points="465.65,607.10 469.62,607.54 473.00,603.08 469.07,602.65" fill="#fff" stroke="#000" stroke-width="0.9" stroke-linejoin="round" />
<polygon points="464.86,640.85 468.81,641.31 469.62,607.54 465.65,607.10" fill="url(#dt)" stroke="#000" stroke-width="0.9" stroke-linejoin="round" />
<polygon points="479.39,642.56 482.69,637.85 484.05,585.88 480.74,590.22" fill="url(#dt)" stroke="#000" stroke-width="0.9" stroke-linejoin="round" />
<polygon points="476.74,589.80 480.74,590.22 484.05,585.88 480.08,585.46" fill="#fff" stroke="#000" stroke-width="0.9" stroke-linejoin="round" />
<polygon points="475.42,642.10 479.39,642.56 480.74,590.22 476.74,589.80" fill="url(#dt)" stroke="#000" stroke-width="0.9" stroke-linejoin="round" />
<polygon points="490.02,643.82 493.24,639.08 495.11,572.45 491.87,576.71" fill="url(#dt)" stroke="#000" stroke-width="0.9" stroke-linejoin="round" />
<polygon points="487.84,576.30 491.87,576.71 495.11,572.45 491.11,572.05" fill="#fff" stroke="#000" stroke-width="0.9" stroke-linejoin="round" />
<polygon points="486.03,643.35 490.02,643.82 491.87,576.71 487.84,576.30" fill="url(#dt)" stroke="#000" stroke-width="0.9" stroke-linejoin="round" />
<polygon points="57.98,600.19 64.28,595.98 63.78,584.49 57.46,588.61" fill="#000" stroke="#000" stroke-width="1" stroke-linejoin="round" />
<polygon points="54.17,588.23 57.46,588.61 63.78,584.49 60.51,584.11" fill="#000" stroke="#000" stroke-width="1" stroke-linejoin="round" />
<polygon points="54.69,599.79 57.98,600.19 57.46,588.61 54.17,588.23" fill="#fff" stroke="#000" stroke-width="1" stroke-linejoin="round" />
<polygon points="66.74,601.24 72.99,597.02 72.45,584.21 66.19,588.35" fill="#000" stroke="#000" stroke-width="1" stroke-linejoin="round" />
<polygon points="62.88,587.96 66.19,588.35 72.45,584.21 69.16,583.83" fill="#000" stroke="#000" stroke-width="1" stroke-linejoin="round" />
<polygon points="63.44,600.84 66.74,601.24 66.19,588.35 62.88,587.96" fill="#fff" stroke="#000" stroke-width="1" stroke-linejoin="round" />
<polygon points="75.54,602.29 81.73,598.06 81.46,591.22 75.25,595.41" fill="#000" stroke="#000" stroke-width="1" stroke-linejoin="round" />
<polygon points="71.93,595.02 75.25,595.41 81.46,591.22 78.16,590.83" fill="#000" stroke="#000" stroke-width="1" stroke-linejoin="round" />
<polygon points="72.22,601.90 75.54,602.29 75.25,595.41 71.93,595.02" fill="#fff" stroke="#000" stroke-width="1" stroke-linejoin="round" />
<polygon points="84.38,603.35 90.52,599.10 90.24,592.04 84.09,596.24" fill="#000" stroke="#000" stroke-width="1" stroke-linejoin="round" />
<polygon points="80.76,595.85 84.09,596.24 90.24,592.04 86.93,591.65" fill="#000" stroke="#000" stroke-width="1" stroke-linejoin="round" />
<polygon points="81.05,602.96 84.38,603.35 84.09,596.24 80.76,595.85" fill="#fff" stroke="#000" stroke-width="1" stroke-linejoin="round" />
<polygon points="93.25,604.42 99.34,600.15 99.10,593.71 93.01,597.94" fill="#000" stroke="#000" stroke-width="1" stroke-linejoin="round" />
<polygon points="89.66,597.55 93.01,597.94 99.10,593.71 95.77,593.32" fill="#000" stroke="#000" stroke-width="1" stroke-linejoin="round" />
<polygon points="89.91,604.02 93.25,604.42 93.01,597.94 89.66,597.55" fill="#fff" stroke="#000" stroke-width="1" stroke-linejoin="round" />
<polygon points="102.17,605.49 108.21,601.20 107.91,593.03 101.87,597.27" fill="#000" stroke="#000" stroke-width="1" stroke-linejoin="round" />
<polygon points="98.50,596.87 101.87,597.27 107.91,593.03 104.57,592.64" fill="#000" stroke="#000" stroke-width="1" stroke-linejoin="round" />
<polygon points="98.81,605.09 102.17,605.49 101.87,597.27 98.50,596.87" fill="#fff" stroke="#000" stroke-width="1" stroke-linejoin="round" />
<polygon points="111.13,606.56 117.11,602.26 116.83,594.29 110.84,598.54" fill="#000" stroke="#000" stroke-width="1" stroke-linejoin="round" />
<polygon points="107.46,598.14 110.84,598.54 116.83,594.29 113.48,593.89" fill="#000" stroke="#000" stroke-width="1" stroke-linejoin="round" />
<polygon points="107.75,606.16 111.13,606.56 110.84,598.54 107.46,598.14" fill="#fff" stroke="#000" stroke-width="1" stroke-linejoin="round" />
<polygon points="120.12,607.64 126.05,603.32 125.82,596.41 119.89,600.69" fill="#000" stroke="#000" stroke-width="1" stroke-linejoin="round" />
<polygon points="116.49,600.29 119.89,600.69 125.82,596.41 122.45,596.02" fill="#000" stroke="#000" stroke-width="1" stroke-linejoin="round" />
<polygon points="116.74,607.24 120.12,607.64 119.89,600.69 116.49,600.29" fill="#fff" stroke="#000" stroke-width="1" stroke-linejoin="round" />
<polygon points="129.16,608.73 135.03,604.38 134.87,599.41 129.00,603.72" fill="#000" stroke="#000" stroke-width="1" stroke-linejoin="round" />
<polygon points="125.59,603.32 129.00,603.72 134.87,599.41 131.49,599.01" fill="#000" stroke="#000" stroke-width="1" stroke-linejoin="round" />
<polygon points="125.76,608.32 129.16,608.73 129.00,603.72 125.59,603.32" fill="#fff" stroke="#000" stroke-width="1" stroke-linejoin="round" />
<polygon points="138.24,609.82 144.05,605.45 143.77,595.92 137.94,600.21" fill="#000" stroke="#000" stroke-width="1" stroke-linejoin="round" />
<polygon points="134.51,599.81 137.94,600.21 143.77,595.92 140.36,595.52" fill="#000" stroke="#000" stroke-width="1" stroke-linejoin="round" />
<polygon points="134.82,609.41 138.24,609.82 137.94,600.21 134.51,599.81" fill="#fff" stroke="#000" stroke-width="1" stroke-linejoin="round" />
<polygon points="147.36,610.91 153.11,606.53 152.93,600.02 147.16,604.35" fill="#000" stroke="#000" stroke-width="1" stroke-linejoin="round" />
<polygon points="143.72,603.94 147.16,604.35 152.93,600.02 149.51,599.62" fill="#000" stroke="#000" stroke-width="1" stroke-linejoin="round" />
<polygon points="143.92,610.50 147.36,610.91 147.16,604.35 143.72,603.94" fill="#fff" stroke="#000" stroke-width="1" stroke-linejoin="round" />
<polygon points="156.51,612.01 162.21,607.61 162.01,600.21 156.30,604.56" fill="#000" stroke="#000" stroke-width="1" stroke-linejoin="round" />
<polygon points="152.85,604.15 156.30,604.56 162.01,600.21 158.58,599.81" fill="#000" stroke="#000" stroke-width="1" stroke-linejoin="round" />
<polygon points="153.06,611.59 156.51,612.01 156.30,604.56 152.85,604.15" fill="#fff" stroke="#000" stroke-width="1" stroke-linejoin="round" />
<polygon points="165.71,613.11 171.36,608.70 171.01,595.17 165.35,599.49" fill="#000" stroke="#000" stroke-width="1" stroke-linejoin="round" />
<polygon points="161.88,599.08 165.35,599.49 171.01,595.17 167.56,594.77" fill="#000" stroke="#000" stroke-width="1" stroke-linejoin="round" />
<polygon points="162.25,612.70 165.71,613.11 165.35,599.49 161.88,599.08" fill="#fff" stroke="#000" stroke-width="1" stroke-linejoin="round" />
<polygon points="174.95,614.22 180.54,609.79 180.36,602.36 174.77,606.74" fill="#000" stroke="#000" stroke-width="1" stroke-linejoin="round" />
<polygon points="171.28,606.33 174.77,606.74 180.36,602.36 176.90,601.95" fill="#000" stroke="#000" stroke-width="1" stroke-linejoin="round" />
<polygon points="171.47,613.80 174.95,614.22 174.77,606.74 171.28,606.33" fill="#fff" stroke="#000" stroke-width="1" stroke-linejoin="round" />
<polygon points="184.24,615.33 189.76,610.88 189.44,596.42 183.90,600.77" fill="#000" stroke="#000" stroke-width="1" stroke-linejoin="round" />
<polygon points="180.39,600.36 183.90,600.77 189.44,596.42 185.96,596.01" fill="#000" stroke="#000" stroke-width="1" stroke-linejoin="round" />
<polygon points="180.74,614.91 184.24,615.33 183.90,600.77 180.39,600.36" fill="#fff" stroke="#000" stroke-width="1" stroke-linejoin="round" />
<polygon points="193.56,616.45 199.03,611.98 198.83,602.33 193.35,606.73" fill="#000" stroke="#000" stroke-width="1" stroke-linejoin="round" />
<polygon points="189.83,606.32 193.35,606.73 198.83,602.33 195.33,601.92" fill="#000" stroke="#000" stroke-width="1" stroke-linejoin="round" />
<polygon points="190.05,616.03 193.56,616.45 193.35,606.73 189.83,606.32" fill="#fff" stroke="#000" stroke-width="1" stroke-linejoin="round" />
<polygon points="202.93,617.58 208.34,613.09 208.12,602.09 202.70,606.50" fill="#000" stroke="#000" stroke-width="1" stroke-linejoin="round" />
<polygon points="199.17,606.09 202.70,606.50 208.12,602.09 204.61,601.68" fill="#000" stroke="#000" stroke-width="1" stroke-linejoin="round" />
<polygon points="199.40,617.15 202.93,617.58 202.70,606.50 199.17,606.09" fill="#fff" stroke="#000" stroke-width="1" stroke-linejoin="round" />
<polygon points="212.34,618.71 217.69,614.20 217.42,598.98 212.05,603.38" fill="#000" stroke="#000" stroke-width="1" stroke-linejoin="round" />
<polygon points="208.50,602.97 212.05,603.38 217.42,598.98 213.88,598.57" fill="#000" stroke="#000" stroke-width="1" stroke-linejoin="round" />
<polygon points="208.79,618.28 212.34,618.71 212.05,603.38 208.50,602.97" fill="#fff" stroke="#000" stroke-width="1" stroke-linejoin="round" />
<polygon points="221.79,619.84 227.08,615.31 226.96,607.81 221.66,612.28" fill="#000" stroke="#000" stroke-width="1" stroke-linejoin="round" />
<polygon points="218.10,611.86 221.66,612.28 226.96,607.81 223.41,607.39" fill="#000" stroke="#000" stroke-width="1" stroke-linejoin="round" />
<polygon points="218.23,619.41 221.79,619.84 221.66,612.28 218.10,611.86" fill="#fff" stroke="#000" stroke-width="1" stroke-linejoin="round" />
<polygon points="231.29,620.98 236.51,616.43 236.40,608.91 231.17,613.40" fill="#000" stroke="#000" stroke-width="1" stroke-linejoin="round" />
<polygon points="227.59,612.98 231.17,613.40 236.40,608.91 232.84,608.49" fill="#000" stroke="#000" stroke-width="1" stroke-linejoin="round" />
<polygon points="227.71,620.55 231.29,620.98 231.17,613.40 227.59,612.98" fill="#fff" stroke="#000" stroke-width="1" stroke-linejoin="round" />
<polygon points="240.83,622.12 245.99,617.56 245.90,610.46 240.73,614.98" fill="#000" stroke="#000" stroke-width="1" stroke-linejoin="round" />
<polygon points="237.13,614.55 240.73,614.98 245.90,610.46 242.32,610.05" fill="#000" stroke="#000" stroke-width="1" stroke-linejoin="round" />
<polygon points="237.23,621.69 240.83,622.12 240.73,614.98 237.13,614.55" fill="#fff" stroke="#000" stroke-width="1" stroke-linejoin="round" />
<polygon points="250.41,623.27 255.51,618.69 255.42,611.13 250.32,615.67" fill="#000" stroke="#000" stroke-width="1" stroke-linejoin="round" />
<polygon points="246.70,615.24 250.32,615.67 255.42,611.13 251.83,610.71" fill="#000" stroke="#000" stroke-width="1" stroke-linejoin="round" />
<polygon points="246.80,622.84 250.41,623.27 250.32,615.67 246.70,615.24" fill="#fff" stroke="#000" stroke-width="1" stroke-linejoin="round" />
<polygon points="260.04,624.43 265.08,619.82 264.98,610.02 259.93,614.56" fill="#000" stroke="#000" stroke-width="1" stroke-linejoin="round" />
<polygon points="256.30,614.13 259.93,614.56 264.98,610.02 261.37,609.60" fill="#000" stroke="#000" stroke-width="1" stroke-linejoin="round" />
<polygon points="256.41,623.99 260.04,624.43 259.93,614.56 256.30,614.13" fill="#fff" stroke="#000" stroke-width="1" stroke-linejoin="round" />
<polygon points="269.71,625.59 274.68,620.96 274.64,615.61 269.66,620.20" fill="#000" stroke="#000" stroke-width="1" stroke-linejoin="round" />
<polygon points="266.02,619.77 269.66,620.20 274.64,615.61 271.02,615.19" fill="#000" stroke="#000" stroke-width="1" stroke-linejoin="round" />
<polygon points="266.07,625.15 269.71,625.59 269.66,620.20 266.02,619.77" fill="#fff" stroke="#000" stroke-width="1" stroke-linejoin="round" />
<polygon points="279.43,626.75 284.34,622.11 284.27,612.27 279.35,616.84" fill="#000" stroke="#000" stroke-width="1" stroke-linejoin="round" />
<polygon points="275.69,616.41 279.35,616.84 284.27,612.27 280.63,611.85" fill="#000" stroke="#000" stroke-width="1" stroke-linejoin="round" />
<polygon points="275.77,626.31 279.43,626.75 279.35,616.84 275.69,616.41" fill="#fff" stroke="#000" stroke-width="1" stroke-linejoin="round" />
<polygon points="289.19,627.92 294.03,623.26 294.00,617.44 289.16,622.06" fill="#000" stroke="#000" stroke-width="1" stroke-linejoin="round" />
<polygon points="285.47,621.62 289.16,622.06 294.00,617.44 290.35,617.01" fill="#000" stroke="#000" stroke-width="1" stroke-linejoin="round" />
<polygon points="285.51,627.48 289.19,627.92 289.16,622.06 285.47,621.62" fill="#fff" stroke="#000" stroke-width="1" stroke-linejoin="round" />
<polygon points="299.06,629.11 303.83,624.42 303.82,620.83 299.04,625.49" fill="#000" stroke="#000" stroke-width="1" stroke-linejoin="round" />
<polygon points="295.34,625.05 299.04,625.49 303.82,620.83 300.15,620.40" fill="#000" stroke="#000" stroke-width="1" stroke-linejoin="round" />
<polygon points="295.36,628.66 299.06,629.11 299.04,625.49 295.34,625.05" fill="#fff" stroke="#000" stroke-width="1" stroke-linejoin="round" />
<polygon points="308.97,630.30 313.67,625.59 313.66,617.94 308.95,622.59" fill="#000" stroke="#000" stroke-width="1" stroke-linejoin="round" />
<polygon points="305.23,622.15 308.95,622.59 313.66,617.94 309.97,617.51" fill="#000" stroke="#000" stroke-width="1" stroke-linejoin="round" />
<polygon points="305.25,629.85 308.97,630.30 308.95,622.59 305.23,622.15" fill="#fff" stroke="#000" stroke-width="1" stroke-linejoin="round" />
<polygon points="318.92,631.49 323.56,626.77 323.56,612.55 318.91,617.17" fill="#000" stroke="#000" stroke-width="1" stroke-linejoin="round" />
<polygon points="315.17,616.73 318.91,617.17 323.56,612.55 319.85,612.12" fill="#000" stroke="#000" stroke-width="1" stroke-linejoin="round" />
<polygon points="315.19,631.04 318.92,631.49 318.91,617.17 315.17,616.73" fill="#fff" stroke="#000" stroke-width="1" stroke-linejoin="round" />
<polygon points="328.93,632.69 333.50,627.95 333.51,621.17 328.93,625.87" fill="#000" stroke="#000" stroke-width="1" stroke-linejoin="round" />
<polygon points="325.18,625.42 328.93,625.87 333.51,621.17 329.78,620.73" fill="#000" stroke="#000" stroke-width="1" stroke-linejoin="round" />
<polygon points="325.18,632.24 328.93,632.69 328.93,625.87 325.18,625.42" fill="#fff" stroke="#000" stroke-width="1" stroke-linejoin="round" />
<polygon points="338.98,633.90 343.48,629.13 343.54,611.90 339.02,616.54" fill="#000" stroke="#000" stroke-width="1" stroke-linejoin="round" />
<polygon points="335.24,616.10 339.02,616.54 343.54,611.90 339.79,611.47" fill="#000" stroke="#000" stroke-width="1" stroke-linejoin="round" />
<polygon points="335.22,633.45 338.98,633.90 339.02,616.54 335.24,616.10" fill="#fff" stroke="#000" stroke-width="1" stroke-linejoin="round" />
<polygon points="349.08,635.11 353.51,630.32 353.53,625.79 349.10,630.54" fill="#000" stroke="#000" stroke-width="1" stroke-linejoin="round" />
<polygon points="345.31,630.09 349.10,630.54 353.53,625.79 349.77,625.34" fill="#000" stroke="#000" stroke-width="1" stroke-linejoin="round" />
<polygon points="345.30,634.66 349.08,635.11 349.10,630.54 345.31,630.09" fill="#fff" stroke="#000" stroke-width="1" stroke-linejoin="round" />
<polygon points="359.23,636.33 363.59,631.52 363.66,619.69 359.29,624.41" fill="#000" stroke="#000" stroke-width="1" stroke-linejoin="round" />
<polygon points="355.49,623.96 359.29,624.41 363.66,619.69 359.88,619.25" fill="#000" stroke="#000" stroke-width="1" stroke-linejoin="round" />
<polygon points="355.43,635.87 359.23,636.33 359.29,624.41 355.49,623.96" fill="#fff" stroke="#000" stroke-width="1" stroke-linejoin="round" />
<polygon points="369.42,637.55 373.71,632.72 373.78,624.74 369.48,629.52" fill="#000" stroke="#000" stroke-width="1" stroke-linejoin="round" />
<polygon points="365.66,629.06 369.48,629.52 373.78,624.74 369.98,624.30" fill="#000" stroke="#000" stroke-width="1" stroke-linejoin="round" />
<polygon points="365.60,637.09 369.42,637.55 369.48,629.52 365.66,629.06" fill="#fff" stroke="#000" stroke-width="1" stroke-linejoin="round" />
<polygon points="379.67,638.78 383.88,633.93 383.97,624.79 379.75,629.57" fill="#000" stroke="#000" stroke-width="1" stroke-linejoin="round" />
<polygon points="375.91,629.12 379.75,629.57 383.97,624.79 380.16,624.35" fill="#000" stroke="#000" stroke-width="1" stroke-linejoin="round" />
<polygon points="375.83,638.32 379.67,638.78 379.75,629.57 375.91,629.12" fill="#fff" stroke="#000" stroke-width="1" stroke-linejoin="round" />
<polygon points="389.96,640.01 394.10,635.14 394.20,627.13 390.05,631.94" fill="#000" stroke="#000" stroke-width="1" stroke-linejoin="round" />
<polygon points="386.19,631.49 390.05,631.94 394.20,627.13 390.36,626.68" fill="#000" stroke="#000" stroke-width="1" stroke-linejoin="round" />
<polygon points="386.10,639.55 389.96,640.01 390.05,631.94 386.19,631.49" fill="#fff" stroke="#000" stroke-width="1" stroke-linejoin="round" />
<polygon points="400.30,641.25 404.37,636.36 404.44,631.09 400.37,635.94" fill="#000" stroke="#000" stroke-width="1" stroke-linejoin="round" />
<polygon points="396.49,635.48 400.37,635.94 404.44,631.09 400.59,630.63" fill="#000" stroke="#000" stroke-width="1" stroke-linejoin="round" />
<polygon points="396.43,640.79 400.30,641.25 400.37,635.94 396.49,635.48" fill="#fff" stroke="#000" stroke-width="1" stroke-linejoin="round" />
<polygon points="410.69,642.50 414.69,637.58 414.79,630.69 410.79,635.55" fill="#000" stroke="#000" stroke-width="1" stroke-linejoin="round" />
<polygon points="406.90,635.09 410.79,635.55 414.79,630.69 410.92,630.24" fill="#000" stroke="#000" stroke-width="1" stroke-linejoin="round" />
<polygon points="406.80,642.03 410.69,642.50 410.79,635.55 406.90,635.09" fill="#fff" stroke="#000" stroke-width="1" stroke-linejoin="round" />
<polygon points="421.13,643.75 425.06,638.82 425.23,628.21 421.31,633.07" fill="#000" stroke="#000" stroke-width="1" stroke-linejoin="round" />
<polygon points="417.39,632.61 421.31,633.07 425.23,628.21 421.34,627.76" fill="#000" stroke="#000" stroke-width="1" stroke-linejoin="round" />
<polygon points="417.22,643.28 421.13,643.75 421.31,633.07 417.39,632.61" fill="#fff" stroke="#000" stroke-width="1" stroke-linejoin="round" />
<polygon points="431.63,645.01 435.47,640.05 435.66,629.66 431.81,634.54" fill="#000" stroke="#000" stroke-width="1" stroke-linejoin="round" />
<polygon points="427.88,634.08 431.81,634.54 435.66,629.66 431.76,629.20" fill="#000" stroke="#000" stroke-width="1" stroke-linejoin="round" />
<polygon points="427.70,644.54 431.63,645.01 431.81,634.54 427.88,634.08" fill="#fff" stroke="#000" stroke-width="1" stroke-linejoin="round" />
<polygon points="442.17,646.28 445.94,641.29 446.11,632.73 442.34,637.65" fill="#000" stroke="#000" stroke-width="1" stroke-linejoin="round" />
<polygon points="438.38,637.18 442.34,637.65 446.11,632.73 442.19,632.27" fill="#000" stroke="#000" stroke-width="1" stroke-linejoin="round" />
<polygon points="438.22,645.80 442.17,646.28 442.34,637.65 438.38,637.18" fill="#fff" stroke="#000" stroke-width="1" stroke-linejoin="round" />
<polygon points="452.76,647.55 456.45,642.54 456.64,634.19 452.94,639.14" fill="#000" stroke="#000" stroke-width="1" stroke-linejoin="round" />
<polygon points="448.97,638.67 452.94,639.14 456.64,634.19 452.69,633.73" fill="#000" stroke="#000" stroke-width="1" stroke-linejoin="round" />
<polygon points="448.79,647.07 452.76,647.55 452.94,639.14 448.97,638.67" fill="#fff" stroke="#000" stroke-width="1" stroke-linejoin="round" />
<polygon points="463.41,648.82 467.02,643.80 467.18,637.29 463.56,642.27" fill="#000" stroke="#000" stroke-width="1" stroke-linejoin="round" />
<polygon points="459.57,641.80 463.56,642.27 467.18,637.29 463.21,636.83" fill="#000" stroke="#000" stroke-width="1" stroke-linejoin="round" />
<polygon points="459.42,648.35 463.41,648.82 463.56,642.27 459.57,641.80" fill="#fff" stroke="#000" stroke-width="1" stroke-linejoin="round" />
<polygon points="474.11,650.11 477.64,645.06 477.91,634.34 474.37,639.31" fill="#000" stroke="#000" stroke-width="1" stroke-linejoin="round" />
<polygon points="470.36,638.84 474.37,639.31 477.91,634.34 473.93,633.88" fill="#000" stroke="#000" stroke-width="1" stroke-linejoin="round" />
<polygon points="470.10,649.63 474.11,650.11 474.37,639.31 470.36,638.84" fill="#fff" stroke="#000" stroke-width="1" stroke-linejoin="round" />
<polygon points="484.85,651.40 488.31,646.32 488.66,633.48 485.20,638.45" fill="#000" stroke="#000" stroke-width="1" stroke-linejoin="round" />
<polygon points="481.17,637.98 485.20,638.45 488.66,633.48 484.65,633.01" fill="#000" stroke="#000" stroke-width="1" stroke-linejoin="round" />
<polygon points="480.83,650.91 484.85,651.40 485.20,638.45 481.17,637.98" fill="#fff" stroke="#000" stroke-width="1" stroke-linejoin="round" />
<line x1="44.70" y1="600.50" x2="49.70" y2="600.50" stroke="#000" stroke-width="0.9" stroke-linecap="round"/>
<line x1="42.73" y1="557.39" x2="47.73" y2="557.39" stroke="#000" stroke-width="0.9" stroke-linecap="round"/>
<line x1="40.73" y1="513.66" x2="45.73" y2="513.66" stroke="#000" stroke-width="0.9" stroke-linecap="round"/>
<line x1="38.70" y1="469.29" x2="43.70" y2="469.29" stroke="#000" stroke-width="0.9" stroke-linecap="round"/>
<line x1="36.64" y1="424.28" x2="41.64" y2="424.28" stroke="#000" stroke-width="0.9" stroke-linecap="round"/>
<line x1="34.55" y1="378.60" x2="39.55" y2="378.60" stroke="#000" stroke-width="0.9" stroke-linecap="round"/>
<line x1="49.70" y1="600.50" x2="50.00" y2="605.30" stroke="#000" stroke-width="0.9" stroke-linecap="round"/>
<line x1="58.47" y1="601.55" x2="58.77" y2="606.35" stroke="#000" stroke-width="0.9" stroke-linecap="round"/>
<line x1="67.29" y1="602.61" x2="67.59" y2="607.41" stroke="#000" stroke-width="0.9" stroke-linecap="round"/>
<line x1="76.14" y1="603.68" x2="76.44" y2="608.48" stroke="#000" stroke-width="0.9" stroke-linecap="round"/>
<line x1="85.03" y1="604.75" x2="85.33" y2="609.55" stroke="#000" stroke-width="0.9" stroke-linecap="round"/>
<line x1="93.96" y1="605.82" x2="94.26" y2="610.62" stroke="#000" stroke-width="0.9" stroke-linecap="round"/>
<line x1="102.93" y1="606.90" x2="103.23" y2="611.70" stroke="#000" stroke-width="0.9" stroke-linecap="round"/>
<line x1="111.94" y1="607.99" x2="112.24" y2="612.79" stroke="#000" stroke-width="0.9" stroke-linecap="round"/>
<line x1="120.99" y1="609.07" x2="121.29" y2="613.87" stroke="#000" stroke-width="0.9" stroke-linecap="round"/>
<line x1="130.08" y1="610.17" x2="130.38" y2="614.97" stroke="#000" stroke-width="0.9" stroke-linecap="round"/>
<line x1="139.21" y1="611.27" x2="139.51" y2="616.07" stroke="#000" stroke-width="0.9" stroke-linecap="round"/>
<line x1="148.38" y1="612.37" x2="148.68" y2="617.17" stroke="#000" stroke-width="0.9" stroke-linecap="round"/>
<line x1="157.60" y1="613.48" x2="157.90" y2="618.28" stroke="#000" stroke-width="0.9" stroke-linecap="round"/>
<line x1="166.85" y1="614.59" x2="167.15" y2="619.39" stroke="#000" stroke-width="0.9" stroke-linecap="round"/>
<line x1="176.15" y1="615.71" x2="176.45" y2="620.51" stroke="#000" stroke-width="0.9" stroke-linecap="round"/>
<line x1="185.49" y1="616.83" x2="185.79" y2="621.63" stroke="#000" stroke-width="0.9" stroke-linecap="round"/>
<line x1="194.88" y1="617.96" x2="195.18" y2="622.76" stroke="#000" stroke-width="0.9" stroke-linecap="round"/>
<line x1="204.30" y1="619.10" x2="204.60" y2="623.90" stroke="#000" stroke-width="0.9" stroke-linecap="round"/>
<line x1="213.77" y1="620.23" x2="214.07" y2="625.03" stroke="#000" stroke-width="0.9" stroke-linecap="round"/>
<line x1="223.28" y1="621.38" x2="223.58" y2="626.18" stroke="#000" stroke-width="0.9" stroke-linecap="round"/>
<line x1="232.84" y1="622.53" x2="233.14" y2="627.33" stroke="#000" stroke-width="0.9" stroke-linecap="round"/>
<line x1="242.44" y1="623.68" x2="242.74" y2="628.48" stroke="#000" stroke-width="0.9" stroke-linecap="round"/>
<line x1="252.08" y1="624.84" x2="252.38" y2="629.64" stroke="#000" stroke-width="0.9" stroke-linecap="round"/>
<line x1="261.77" y1="626.01" x2="262.07" y2="630.81" stroke="#000" stroke-width="0.9" stroke-linecap="round"/>
<line x1="271.51" y1="627.18" x2="271.81" y2="631.98" stroke="#000" stroke-width="0.9" stroke-linecap="round"/>
<line x1="281.29" y1="628.36" x2="281.59" y2="633.16" stroke="#000" stroke-width="0.9" stroke-linecap="round"/>
<line x1="291.11" y1="629.54" x2="291.41" y2="634.34" stroke="#000" stroke-width="0.9" stroke-linecap="round"/>
<line x1="300.98" y1="630.73" x2="301.28" y2="635.53" stroke="#000" stroke-width="0.9" stroke-linecap="round"/>
<line x1="310.90" y1="631.92" x2="311.20" y2="636.72" stroke="#000" stroke-width="0.9" stroke-linecap="round"/>
<line x1="320.87" y1="633.12" x2="321.17" y2="637.92" stroke="#000" stroke-width="0.9" stroke-linecap="round"/>
<line x1="330.88" y1="634.32" x2="331.18" y2="639.12" stroke="#000" stroke-width="0.9" stroke-linecap="round"/>
<line x1="340.94" y1="635.53" x2="341.24" y2="640.33" stroke="#000" stroke-width="0.9" stroke-linecap="round"/>
<line x1="351.04" y1="636.75" x2="351.34" y2="641.55" stroke="#000" stroke-width="0.9" stroke-linecap="round"/>
<line x1="361.20" y1="637.97" x2="361.50" y2="642.77" stroke="#000" stroke-width="0.9" stroke-linecap="round"/>
<line x1="371.40" y1="639.20" x2="371.70" y2="644.00" stroke="#000" stroke-width="0.9" stroke-linecap="round"/>
<line x1="381.65" y1="640.43" x2="381.95" y2="645.23" stroke="#000" stroke-width="0.9" stroke-linecap="round"/>
<line x1="391.95" y1="641.67" x2="392.25" y2="646.47" stroke="#000" stroke-width="0.9" stroke-linecap="round"/>
<line x1="402.30" y1="642.91" x2="402.60" y2="647.71" stroke="#000" stroke-width="0.9" stroke-linecap="round"/>
<line x1="412.70" y1="644.16" x2="413.00" y2="648.96" stroke="#000" stroke-width="0.9" stroke-linecap="round"/>
<line x1="423.14" y1="645.42" x2="423.44" y2="650.22" stroke="#000" stroke-width="0.9" stroke-linecap="round"/>
<line x1="433.64" y1="646.68" x2="433.94" y2="651.48" stroke="#000" stroke-width="0.9" stroke-linecap="round"/>
<line x1="444.19" y1="647.95" x2="444.49" y2="652.75" stroke="#000" stroke-width="0.9" stroke-linecap="round"/>
<line x1="454.79" y1="649.23" x2="455.09" y2="654.03" stroke="#000" stroke-width="0.9" stroke-linecap="round"/>
<line x1="465.45" y1="650.51" x2="465.75" y2="655.31" stroke="#000" stroke-width="0.9" stroke-linecap="round"/>
<line x1="476.15" y1="651.80" x2="476.45" y2="656.60" stroke="#000" stroke-width="0.9" stroke-linecap="round"/>
<line x1="486.91" y1="653.09" x2="487.21" y2="657.89" stroke="#000" stroke-width="0.9" stroke-linecap="round"/>
<line x1="486.91" y1="653.09" x2="491.91" y2="652.89" stroke="#000" stroke-width="0.9" stroke-linecap="round"/>
<line x1="491.89" y1="645.73" x2="495.29" y2="645.53" stroke="#000" stroke-width="0.9" stroke-linecap="round"/>
<line x1="496.75" y1="638.53" x2="500.15" y2="638.33" stroke="#000" stroke-width="0.9" stroke-linecap="round"/>
<line x1="501.49" y1="631.51" x2="506.49" y2="631.31" stroke="#000" stroke-width="0.9" stroke-linecap="round"/>
<text x="34.98" y="254.10" font-size="8" text-anchor="end" font-weight="bold" stroke="#000" stroke-width="0.3">0</text>
<text x="33.64" y="225.27" font-size="8" text-anchor="end" font-weight="bold" stroke="#000" stroke-width="0.3">5</text>
<text x="32.27" y="196.16" font-size="8" text-anchor="end" font-weight="bold" stroke="#000" stroke-width="0.3">10</text>
<text x="30.90" y="166.75" font-size="8" text-anchor="end" font-weight="bold" stroke="#000" stroke-width="0.3">15</text>
<text x="29.51" y="137.04" font-size="8" text-anchor="end" font-weight="bold" stroke="#000" stroke-width="0.3">20</text>
<text x="28.11" y="107.02" font-size="8" text-anchor="end" font-weight="bold" stroke="#000" stroke-width="0.3">25</text>
<text x="26.69" y="76.69" font-size="8" text-anchor="end" font-weight="bold" stroke="#000" stroke-width="0.3">30</text>
<text x="25.25" y="46.05" font-size="8" text-anchor="end" font-weight="bold" stroke="#000" stroke-width="0.3">35</text>
<text x="23.81" y="15.09" font-size="8" text-anchor="end" font-weight="bold" stroke="#000" stroke-width="0.3">40</text>
<text x="47.93" y="267.74" font-size="8.4" text-anchor="middle" font-weight="bold" stroke="#000" stroke-width="0.3">1</text>
<text x="59.06" y="269.02" font-size="8.4" text-anchor="middle" font-weight="bold" stroke="#000" stroke-width="0.3">2</text>
<text x="70.25" y="270.30" font-size="8.4" text-anchor="middle" font-weight="bold" stroke="#000" stroke-width="0.3">3</text>
<text x="81.50" y="271.60" font-size="8.4" text-anchor="middle" font-weight="bold" stroke="#000" stroke-width="0.3">4</text>
<text x="92.82" y="272.90" font-size="8.4" text-anchor="middle" font-weight="bold" stroke="#000" stroke-width="0.3">5</text>
<text x="104.19" y="274.20" font-size="8.4" text-anchor="middle" font-weight="bold" stroke="#000" stroke-width="0.3">6</text>
<text x="115.64" y="275.52" font-size="8.4" text-anchor="middle" font-weight="bold" stroke="#000" stroke-width="0.3">7</text>
<text x="127.15" y="276.84" font-size="8.4" text-anchor="middle" font-weight="bold" stroke="#000" stroke-width="0.3">8</text>
<text x="138.72" y="278.17" font-size="8.4" text-anchor="middle" font-weight="bold" stroke="#000" stroke-width="0.3">9</text>
<text x="150.36" y="279.51" font-size="8.4" text-anchor="middle" font-weight="bold" stroke="#000" stroke-width="0.3">10</text>
<text x="162.07" y="280.85" font-size="8.4" text-anchor="middle" font-weight="bold" stroke="#000" stroke-width="0.3">11</text>
<text x="173.84" y="282.21" font-size="8.4" text-anchor="middle" font-weight="bold" stroke="#000" stroke-width="0.3">12</text>
<text x="185.68" y="283.57" font-size="8.4" text-anchor="middle" font-weight="bold" stroke="#000" stroke-width="0.3">13</text>
<text x="197.59" y="284.94" font-size="8.4" text-anchor="middle" font-weight="bold" stroke="#000" stroke-width="0.3">14</text>
<text x="209.57" y="286.31" font-size="8.4" text-anchor="middle" font-weight="bold" stroke="#000" stroke-width="0.3">15</text>
<text x="221.62" y="287.70" font-size="8.4" text-anchor="middle" font-weight="bold" stroke="#000" stroke-width="0.3">16</text>
<text x="233.74" y="289.09" font-size="8.4" text-anchor="middle" font-weight="bold" stroke="#000" stroke-width="0.3">17</text>
<text x="245.93" y="290.49" font-size="8.4" text-anchor="middle" font-weight="bold" stroke="#000" stroke-width="0.3">18</text>
<text x="258.19" y="291.90" font-size="8.4" text-anchor="middle" font-weight="bold" stroke="#000" stroke-width="0.3">19</text>
<text x="270.52" y="293.32" font-size="8.4" text-anchor="middle" font-weight="bold" stroke="#000" stroke-width="0.3">20</text>
<text x="282.93" y="294.75" font-size="8.4" text-anchor="middle" font-weight="bold" stroke="#000" stroke-width="0.3">21</text>
<text x="295.40" y="296.18" font-size="8.4" text-anchor="middle" font-weight="bold" stroke="#000" stroke-width="0.3">22</text>
<text x="307.96" y="297.63" font-size="8.4" text-anchor="middle" font-weight="bold" stroke="#000" stroke-width="0.3">23</text>
<text x="320.59" y="299.08" font-size="8.4" text-anchor="middle" font-weight="bold" stroke="#000" stroke-width="0.3">24</text>
<text x="333.29" y="300.54" font-size="8.4" text-anchor="middle" font-weight="bold" stroke="#000" stroke-width="0.3">25</text>
<text x="346.07" y="302.01" font-size="8.4" text-anchor="middle" font-weight="bold" stroke="#000" stroke-width="0.3">26</text>
<text x="358.92" y="303.49" font-size="8.4" text-anchor="middle" font-weight="bold" stroke="#000" stroke-width="0.3">27</text>
<text x="371.86" y="304.98" font-size="8.4" text-anchor="middle" font-weight="bold" stroke="#000" stroke-width="0.3">28</text>
<text x="384.87" y="306.48" font-size="8.4" text-anchor="middle" font-weight="bold" stroke="#000" stroke-width="0.3">29</text>
<text x="397.96" y="307.98" font-size="8.4" text-anchor="middle" font-weight="bold" stroke="#000" stroke-width="0.3">30</text>
<text x="411.13" y="309.50" font-size="8.4" text-anchor="middle" font-weight="bold" stroke="#000" stroke-width="0.3">31</text>
<text x="424.38" y="311.02" font-size="8.4" text-anchor="middle" font-weight="bold" stroke="#000" stroke-width="0.3">32</text>
<text x="437.71" y="312.56" font-size="8.4" text-anchor="middle" font-weight="bold" stroke="#000" stroke-width="0.3">33</text>
<text x="451.12" y="314.10" font-size="8.4" text-anchor="middle" font-weight="bold" stroke="#000" stroke-width="0.3">34</text>
<text x="464.61" y="315.65" font-size="8.4" text-anchor="middle" font-weight="bold" stroke="#000" stroke-width="0.3">35</text>
<text x="478.19" y="317.22" font-size="8.4" text-anchor="middle" font-weight="bold" stroke="#000" stroke-width="0.3">36</text>
<text x="504.00" y="290.80" font-size="7.5" text-anchor="start" font-weight="bold" stroke="#000" stroke-width="0.3">S2</text>
<text x="499.10" y="299.80" font-size="7.5" text-anchor="start" font-weight="bold" stroke="#000" stroke-width="0.3">S1</text>
<text x="188.70" y="305.80" font-size="8" text-anchor="start" font-weight="bold" stroke="#000" stroke-width="0.3" textLength="68.8" lengthAdjust="spacingAndGlyphs">Specimen Number</text>
<text x="9.60" y="170.60" font-size="9" text-anchor="start" font-weight="bold" stroke="#000" stroke-width="0.3" transform="rotate(-90 9.60 170.60)" textLength="73.8" lengthAdjust="spacingAndGlyphs">Fluorescence Ratio</text>
<text x="403.80" y="57.50" font-size="10.8" text-anchor="start" font-weight="bold" stroke="#000" stroke-width="0.2" textLength="63.6" lengthAdjust="spacingAndGlyphs">B-Precursor</text>
<text x="44.30" y="603.10" font-size="7.8" text-anchor="end" font-weight="bold" stroke="#000" stroke-width="0.3">0</text>
<text x="42.13" y="559.99" font-size="7.8" text-anchor="end" font-weight="bold" stroke="#000" stroke-width="0.3">10</text>
<text x="39.93" y="516.26" font-size="7.8" text-anchor="end" font-weight="bold" stroke="#000" stroke-width="0.3">20</text>
<text x="37.70" y="471.89" font-size="7.8" text-anchor="end" font-weight="bold" stroke="#000" stroke-width="0.3">30</text>
<text x="35.44" y="426.88" font-size="7.8" text-anchor="end" font-weight="bold" stroke="#000" stroke-width="0.3">40</text>
<text x="33.15" y="381.20" font-size="7.8" text-anchor="end" font-weight="bold" stroke="#000" stroke-width="0.3">50</text>
<text x="54.68" y="614.13" font-size="6.5" text-anchor="middle" font-weight="bold" stroke="#000" stroke-width="0.3">1</text>
<text x="63.49" y="615.22" font-size="6.5" text-anchor="middle" font-weight="bold" stroke="#000" stroke-width="0.3">2</text>
<text x="72.33" y="616.31" font-size="6.5" text-anchor="middle" font-weight="bold" stroke="#000" stroke-width="0.3">3</text>
<text x="81.21" y="617.41" font-size="6.5" text-anchor="middle" font-weight="bold" stroke="#000" stroke-width="0.3">4</text>
<text x="90.13" y="618.51" font-size="6.5" text-anchor="middle" font-weight="bold" stroke="#000" stroke-width="0.3">5</text>
<text x="99.09" y="619.62" font-size="6.5" text-anchor="middle" font-weight="bold" stroke="#000" stroke-width="0.3">6</text>
<text x="108.10" y="620.73" font-size="6.5" text-anchor="middle" font-weight="bold" stroke="#000" stroke-width="0.3">7</text>
<text x="117.14" y="621.85" font-size="6.5" text-anchor="middle" font-weight="bold" stroke="#000" stroke-width="0.3">8</text>
<text x="126.22" y="622.97" font-size="6.5" text-anchor="middle" font-weight="bold" stroke="#000" stroke-width="0.3">9</text>
<text x="135.34" y="624.10" font-size="6.5" text-anchor="middle" font-weight="bold" stroke="#000" stroke-width="0.3">10</text>
<text x="144.51" y="625.24" font-size="6.5" text-anchor="middle" font-weight="bold" stroke="#000" stroke-width="0.3">11</text>
<text x="153.71" y="626.37" font-size="6.5" text-anchor="middle" font-weight="bold" stroke="#000" stroke-width="0.3">12</text>
<text x="162.96" y="627.52" font-size="6.5" text-anchor="middle" font-weight="bold" stroke="#000" stroke-width="0.3">13</text>
<text x="172.25" y="628.66" font-size="6.5" text-anchor="middle" font-weight="bold" stroke="#000" stroke-width="0.3">14</text>
<text x="181.58" y="629.82" font-size="6.5" text-anchor="middle" font-weight="bold" stroke="#000" stroke-width="0.3">15</text>
<text x="190.95" y="630.97" font-size="6.5" text-anchor="middle" font-weight="bold" stroke="#000" stroke-width="0.3">16</text>
<text x="200.37" y="632.14" font-size="6.5" text-anchor="middle" font-weight="bold" stroke="#000" stroke-width="0.3">17</text>
<text x="209.82" y="633.31" font-size="6.5" text-anchor="middle" font-weight="bold" stroke="#000" stroke-width="0.3">18</text>
<text x="219.33" y="634.48" font-size="6.5" text-anchor="middle" font-weight="bold" stroke="#000" stroke-width="0.3">19</text>
<text x="228.87" y="635.66" font-size="6.5" text-anchor="middle" font-weight="bold" stroke="#000" stroke-width="0.3">20</text>
<text x="238.46" y="636.84" font-size="6.5" text-anchor="middle" font-weight="bold" stroke="#000" stroke-width="0.3">21</text>
<text x="248.10" y="638.03" font-size="6.5" text-anchor="middle" font-weight="bold" stroke="#000" stroke-width="0.3">22</text>
<text x="257.77" y="639.23" font-size="6.5" text-anchor="middle" font-weight="bold" stroke="#000" stroke-width="0.3">23</text>
<text x="267.50" y="640.43" font-size="6.5" text-anchor="middle" font-weight="bold" stroke="#000" stroke-width="0.3">24</text>
<text x="277.27" y="641.63" font-size="6.5" text-anchor="middle" font-weight="bold" stroke="#000" stroke-width="0.3">25</text>
<text x="287.08" y="642.84" font-size="6.5" text-anchor="middle" font-weight="bold" stroke="#000" stroke-width="0.3">26</text>
<text x="296.94" y="644.06" font-size="6.5" text-anchor="middle" font-weight="bold" stroke="#000" stroke-width="0.3">27</text>
<text x="306.84" y="645.28" font-size="6.5" text-anchor="middle" font-weight="bold" stroke="#000" stroke-width="0.3">28</text>
<text x="316.80" y="646.51" font-size="6.5" text-anchor="middle" font-weight="bold" stroke="#000" stroke-width="0.3">29</text>
<text x="326.80" y="647.74" font-size="6.5" text-anchor="middle" font-weight="bold" stroke="#000" stroke-width="0.3">30</text>
<text x="336.84" y="648.98" font-size="6.5" text-anchor="middle" font-weight="bold" stroke="#000" stroke-width="0.3">31</text>
<text x="346.94" y="650.22" font-size="6.5" text-anchor="middle" font-weight="bold" stroke="#000" stroke-width="0.3">32</text>
<text x="357.08" y="651.48" font-size="6.5" text-anchor="middle" font-weight="bold" stroke="#000" stroke-width="0.3">33</text>
<text x="367.27" y="652.73" font-size="6.5" text-anchor="middle" font-weight="bold" stroke="#000" stroke-width="0.3">34</text>
<text x="377.50" y="653.99" font-size="6.5" text-anchor="middle" font-weight="bold" stroke="#000" stroke-width="0.3">35</text>
<text x="387.79" y="655.26" font-size="6.5" text-anchor="middle" font-weight="bold" stroke="#000" stroke-width="0.3">36</text>
<text x="398.13" y="656.53" font-size="6.5" text-anchor="middle" font-weight="bold" stroke="#000" stroke-width="0.3">37</text>
<text x="408.51" y="657.81" font-size="6.5" text-anchor="middle" font-weight="bold" stroke="#000" stroke-width="0.3">38</text>
<text x="418.95" y="659.10" font-size="6.5" text-anchor="middle" font-weight="bold" stroke="#000" stroke-width="0.3">39</text>
<text x="429.43" y="660.39" font-size="6.5" text-anchor="middle" font-weight="bold" stroke="#000" stroke-width="0.3">40</text>
<text x="439.97" y="661.69" font-size="6.5" text-anchor="middle" font-weight="bold" stroke="#000" stroke-width="0.3">41</text>
<text x="450.55" y="662.99" font-size="6.5" text-anchor="middle" font-weight="bold" stroke="#000" stroke-width="0.3">42</text>
<text x="461.19" y="664.30" font-size="6.5" text-anchor="middle" font-weight="bold" stroke="#000" stroke-width="0.3">43</text>
<text x="471.88" y="665.62" font-size="6.5" text-anchor="middle" font-weight="bold" stroke="#000" stroke-width="0.3">44</text>
<text x="482.62" y="666.94" font-size="6.5" text-anchor="middle" font-weight="bold" stroke="#000" stroke-width="0.3">45</text>
<text x="509.20" y="637.30" font-size="7.5" text-anchor="start" font-weight="bold" stroke="#000" stroke-width="0.3">S3</text>
<text x="500.60" y="652.30" font-size="7.5" text-anchor="start" font-weight="bold" stroke="#000" stroke-width="0.3">S1</text>
<text x="198.70" y="653.00" font-size="8" text-anchor="start" font-weight="bold" stroke="#000" stroke-width="0.3" textLength="67.5" lengthAdjust="spacingAndGlyphs">Specimen Number</text>
<text x="18.60" y="516.80" font-size="9" text-anchor="start" font-weight="bold" stroke="#000" stroke-width="0.3" transform="rotate(-90 18.60 516.80)" textLength="76.6" lengthAdjust="spacingAndGlyphs">Fluorescence Ratio</text>
<text x="432.00" y="399.00" font-size="10.8" text-anchor="start" font-weight="bold" stroke="#000" stroke-width="0.2" textLength="29.8" lengthAdjust="spacingAndGlyphs">T-ALL</text>
</svg></body></html>
